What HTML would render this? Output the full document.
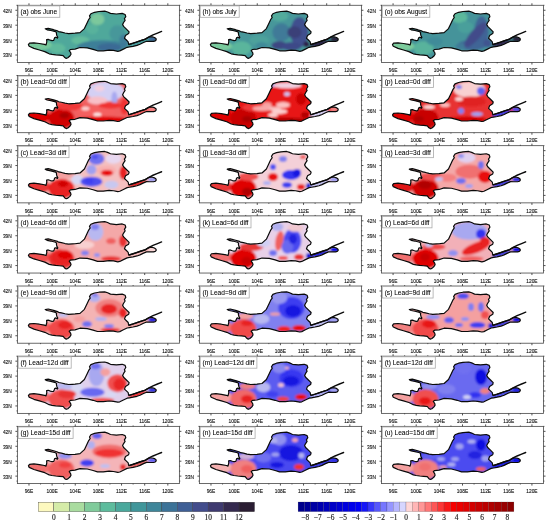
<!DOCTYPE html><html><head><meta charset="utf-8"><style>html,body{margin:0;padding:0;background:#fff;}svg{display:block;}text{font-family:"Liberation Sans",sans-serif;} svg{will-change:transform;}</style></head><body>
<svg width="550" height="523" viewBox="0 0 550 523">
<defs>
<clipPath id="cb"><path d="M11.0,39.4 L12.1,37.9 L16.5,37.5 L22.0,38.2 L27.0,39.1 L28.6,39.7 L29.4,36.5 L29.2,34.4 L30.8,34.1 L33.0,34.9 L34.6,35.3 L36.2,35.1 L36.8,33.8 L37.3,32.3 L38.4,31.9 L40.0,32.8 L40.4,32.0 L39.5,30.5 L39.0,28.3 L39.2,27.3 L38.1,26.4 L33.5,25.2 L29.7,24.5 L27.8,23.5 L30.8,23.0 L36.2,24.4 L40.1,25.6 L41.2,26.3 L44.0,26.8 L47.6,27.7 L51.2,28.3 L54.9,28.1 L57.6,27.9 L62.6,27.3 L67.0,23.3 L69.9,17.2 L71.3,14.2 L72.8,12.1 L72.1,10.6 L73.5,8.4 L77.1,7.0 L81.5,6.2 L87.3,5.8 L90.2,6.7 L93.1,8.1 L99.0,8.7 L104.8,8.1 L107.7,9.2 L108.4,11.3 L107.0,13.5 L107.7,15.0 L106.2,17.2 L105.2,19.2 L106.2,21.1 L109.0,23.8 L111.7,26.5 L111.2,28.3 L108.1,30.2 L107.1,32.9 L109.0,34.7 L110.8,36.5 L111.2,38.8 L112.4,39.0 L115.6,38.0 L118.8,36.9 L123.1,35.3 L127.9,33.9 L130.1,32.5 L132.4,31.5 L135.1,31.6 L137.0,32.2 L138.6,33.3 L138.8,34.5 L137.9,35.6 L136.1,36.1 L132.4,36.1 L129.1,36.0 L125.6,37.5 L122.6,39.0 L119.6,40.1 L115.6,41.0 L112.1,41.6 L109.7,42.0 L106.0,43.8 L102.4,45.6 L100.4,46.0 L96.1,45.1 L91.7,44.8 L85.9,45.5 L80.1,45.5 L75.7,44.1 L69.9,42.6 L62.6,42.2 L57.6,43.8 L53.1,44.2 L51.8,45.3 L53.2,47.2 L53.6,48.9 L52.5,50.7 L50.4,52.5 L48.8,53.1 L47.4,52.3 L45.8,50.3 L42.1,49.9 L38.3,49.6 L34.6,49.1 L31.8,48.5 L29.4,47.3 L27.4,46.3 L22.0,44.7 L16.5,43.1 L11.8,41.0Z"/></clipPath>
<filter id="bl" x="-20%" y="-20%" width="140%" height="140%"><feGaussianBlur stdDeviation="1.3"/></filter>
<path id="bp" d="M11.0,39.4 L12.1,37.9 L16.5,37.5 L22.0,38.2 L27.0,39.1 L28.6,39.7 L29.4,36.5 L29.2,34.4 L30.8,34.1 L33.0,34.9 L34.6,35.3 L36.2,35.1 L36.8,33.8 L37.3,32.3 L38.4,31.9 L40.0,32.8 L40.4,32.0 L39.5,30.5 L39.0,28.3 L39.2,27.3 L38.1,26.4 L33.5,25.2 L29.7,24.5 L27.8,23.5 L30.8,23.0 L36.2,24.4 L40.1,25.6 L41.2,26.3 L44.0,26.8 L47.6,27.7 L51.2,28.3 L54.9,28.1 L57.6,27.9 L62.6,27.3 L67.0,23.3 L69.9,17.2 L71.3,14.2 L72.8,12.1 L72.1,10.6 L73.5,8.4 L77.1,7.0 L81.5,6.2 L87.3,5.8 L90.2,6.7 L93.1,8.1 L99.0,8.7 L104.8,8.1 L107.7,9.2 L108.4,11.3 L107.0,13.5 L107.7,15.0 L106.2,17.2 L105.2,19.2 L106.2,21.1 L109.0,23.8 L111.7,26.5 L111.2,28.3 L108.1,30.2 L107.1,32.9 L109.0,34.7 L110.8,36.5 L111.2,38.8 L112.4,39.0 L115.6,38.0 L118.8,36.9 L123.1,35.3 L127.9,33.9 L130.1,32.5 L132.4,31.5 L135.1,31.6 L137.0,32.2 L138.6,33.3 L138.8,34.5 L137.9,35.6 L136.1,36.1 L132.4,36.1 L129.1,36.0 L125.6,37.5 L122.6,39.0 L119.6,40.1 L115.6,41.0 L112.1,41.6 L109.7,42.0 L106.0,43.8 L102.4,45.6 L100.4,46.0 L96.1,45.1 L91.7,44.8 L85.9,45.5 L80.1,45.5 L75.7,44.1 L69.9,42.6 L62.6,42.2 L57.6,43.8 L53.1,44.2 L51.8,45.3 L53.2,47.2 L53.6,48.9 L52.5,50.7 L50.4,52.5 L48.8,53.1 L47.4,52.3 L45.8,50.3 L42.1,49.9 L38.3,49.6 L34.6,49.1 L31.8,48.5 L29.4,47.3 L27.4,46.3 L22.0,44.7 L16.5,43.1 L11.8,41.0Z"/>
<path id="rv" d="M111.6,39.2 L118.8,36.9 L127.9,33.9 L131.6,31.6 L135.6,29.6 L140.1,27.8 L144.2,26.1"/>
</defs>
<rect width="550" height="523" fill="#fff"/>
<g transform="translate(17.40,5.30)"><g clip-path="url(#cb)"><g filter="url(#bl)"><rect x="5" y="0" width="150" height="57" fill="#4fa89b"/><ellipse cx="22" cy="40" rx="13" ry="5" fill="#78c99c" fill-opacity="1"/><ellipse cx="40" cy="43" rx="8" ry="5" fill="#62bd9c" fill-opacity="0.8"/><ellipse cx="63" cy="35" rx="9" ry="4" fill="#6cc49c" fill-opacity="0.7"/><ellipse cx="80" cy="14" rx="7" ry="6" fill="#80cb9c" fill-opacity="0.9"/><ellipse cx="75" cy="24" rx="6" ry="5" fill="#60b99c" fill-opacity="0.6"/><ellipse cx="100" cy="28" rx="8" ry="8" fill="#44929a" fill-opacity="0.8"/><ellipse cx="85" cy="41" rx="25" ry="6" fill="#3e7f98" fill-opacity="1"/><ellipse cx="92" cy="42" rx="12" ry="4" fill="#3b6a95" fill-opacity="1"/><ellipse cx="107" cy="35" rx="5" ry="6" fill="#3e7898" fill-opacity="0.9"/><ellipse cx="120" cy="38.2" rx="10" ry="2.6" fill="#4a9a9b" fill-opacity="1" transform="rotate(-17 120 38.2)"/><ellipse cx="135.5" cy="33.8" rx="5" ry="2.8" fill="#3c6898" fill-opacity="1"/></g></g><use href="#bp" fill="none" stroke="#0a0a0a" stroke-width="1.2" stroke-linejoin="round"/><use href="#rv" fill="none" stroke="#0a0a0a" stroke-width="1.4" stroke-linecap="round"/><rect x="0" y="0" width="162.0" height="57.2" fill="none" stroke="#505050" stroke-width="0.85"/><path d="M11.57,57.20v2.0M11.57,0v-2.0M23.14,57.20v0.9M23.14,0v-0.9M34.71,57.20v2.0M34.71,0v-2.0M46.29,57.20v0.9M46.29,0v-0.9M57.86,57.20v2.0M57.86,0v-2.0M69.43,57.20v0.9M69.43,0v-0.9M81.00,57.20v2.0M81.00,0v-2.0M92.57,57.20v0.9M92.57,0v-0.9M104.14,57.20v2.0M104.14,0v-2.0M115.71,57.20v0.9M115.71,0v-0.9M127.29,57.20v2.0M127.29,0v-2.0M138.86,57.20v0.9M138.86,0v-0.9M150.43,57.20v2.0M150.43,0v-2.0M0,54.71h-0.9M162.00,54.71h0.9M0,49.74h-2.0M162.00,49.74h2.0M0,44.77h-0.9M162.00,44.77h0.9M0,39.79h-0.9M162.00,39.79h0.9M0,34.82h-2.0M162.00,34.82h2.0M0,29.84h-0.9M162.00,29.84h0.9M0,24.87h-0.9M162.00,24.87h0.9M0,19.90h-2.0M162.00,19.90h2.0M0,14.92h-0.9M162.00,14.92h0.9M0,9.95h-0.9M162.00,9.95h0.9M0,4.97h-2.0M162.00,4.97h2.0M0,0.00h-0.9M162.00,0.00h0.9" stroke="#333" stroke-width="0.85" fill="none"/><text x="11.57" y="66.95" font-size="5.6" text-anchor="middle" textLength="8.63" lengthAdjust="spacingAndGlyphs" fill="#111" stroke="#111" stroke-width="0.12">96E</text><text x="34.71" y="66.95" font-size="5.6" text-anchor="middle" textLength="11.33" lengthAdjust="spacingAndGlyphs" fill="#111" stroke="#111" stroke-width="0.12">100E</text><text x="57.86" y="66.95" font-size="5.6" text-anchor="middle" textLength="11.33" lengthAdjust="spacingAndGlyphs" fill="#111" stroke="#111" stroke-width="0.12">104E</text><text x="81.00" y="66.95" font-size="5.6" text-anchor="middle" textLength="11.33" lengthAdjust="spacingAndGlyphs" fill="#111" stroke="#111" stroke-width="0.12">108E</text><text x="104.14" y="66.95" font-size="5.6" text-anchor="middle" textLength="10.97" lengthAdjust="spacingAndGlyphs" fill="#111" stroke="#111" stroke-width="0.12">112E</text><text x="127.29" y="66.95" font-size="5.6" text-anchor="middle" textLength="10.97" lengthAdjust="spacingAndGlyphs" fill="#111" stroke="#111" stroke-width="0.12">116E</text><text x="150.43" y="66.95" font-size="5.6" text-anchor="middle" textLength="11.33" lengthAdjust="spacingAndGlyphs" fill="#111" stroke="#111" stroke-width="0.12">120E</text><text x="-5.6" y="7.37" font-size="5.6" text-anchor="end" textLength="8.90" lengthAdjust="spacingAndGlyphs" fill="#111" stroke="#111" stroke-width="0.12">42N</text><text x="-5.6" y="22.30" font-size="5.6" text-anchor="end" textLength="8.90" lengthAdjust="spacingAndGlyphs" fill="#111" stroke="#111" stroke-width="0.12">39N</text><text x="-5.6" y="37.22" font-size="5.6" text-anchor="end" textLength="8.90" lengthAdjust="spacingAndGlyphs" fill="#111" stroke="#111" stroke-width="0.12">36N</text><text x="-5.6" y="52.14" font-size="5.6" text-anchor="end" textLength="8.90" lengthAdjust="spacingAndGlyphs" fill="#111" stroke="#111" stroke-width="0.12">33N</text><text x="167.70" y="7.37" font-size="5.6" text-anchor="start" textLength="8.90" lengthAdjust="spacingAndGlyphs" fill="#111" stroke="#111" stroke-width="0.12">42N</text><text x="167.70" y="22.30" font-size="5.6" text-anchor="start" textLength="8.90" lengthAdjust="spacingAndGlyphs" fill="#111" stroke="#111" stroke-width="0.12">39N</text><text x="167.70" y="37.22" font-size="5.6" text-anchor="start" textLength="8.90" lengthAdjust="spacingAndGlyphs" fill="#111" stroke="#111" stroke-width="0.12">36N</text><text x="167.70" y="52.14" font-size="5.6" text-anchor="start" textLength="8.90" lengthAdjust="spacingAndGlyphs" fill="#111" stroke="#111" stroke-width="0.12">33N</text><rect x="0.8" y="0.6" width="41.6" height="11.4" fill="#fff" stroke="#aaa" stroke-width="0.8"/><text x="3.15" y="9.0" font-size="6.6" fill="#000" stroke="#000" stroke-width="0.06">(a) obs June</text></g>
<g transform="translate(17.40,75.48)"><g clip-path="url(#cb)"><g filter="url(#bl)"><rect x="5" y="0" width="150" height="57" fill="#f06060"/><ellipse cx="19" cy="41" rx="14" ry="7" fill="#e00000" fill-opacity="1"/><ellipse cx="44" cy="43" rx="13" ry="10" fill="#d00000" fill-opacity="1"/><ellipse cx="47" cy="40" rx="5" ry="3" fill="#a80000" fill-opacity="1"/><ellipse cx="52" cy="31" rx="14" ry="4" fill="#f03838" fill-opacity="1"/><ellipse cx="78" cy="36" rx="20" ry="5" fill="#f46060" fill-opacity="1"/><ellipse cx="80" cy="39" rx="4" ry="2" fill="#fce0e0" fill-opacity="1"/><ellipse cx="68" cy="33" rx="4" ry="2" fill="#fad0d0" fill-opacity="1"/><ellipse cx="85" cy="44" rx="26" ry="3" fill="#e00000" fill-opacity="1"/><ellipse cx="88" cy="16" rx="19" ry="10" fill="#d4d0f4" fill-opacity="1"/><ellipse cx="82" cy="13" rx="5" ry="3" fill="#f4d0e0" fill-opacity="1"/><ellipse cx="97" cy="23" rx="3" ry="7" fill="#a8a8f0" fill-opacity="1"/><ellipse cx="80" cy="25" rx="10" ry="4" fill="#f8c0c8" fill-opacity="1"/><ellipse cx="93" cy="30" rx="12" ry="3" fill="#f03030" fill-opacity="1"/><ellipse cx="107" cy="31" rx="4" ry="8" fill="#f03030" fill-opacity="1"/><ellipse cx="120" cy="38.2" rx="10" ry="2.6" fill="#f06060" fill-opacity="1" transform="rotate(-17 120 38.2)"/><ellipse cx="135.5" cy="33.8" rx="5" ry="2.8" fill="#f48080" fill-opacity="1"/></g></g><use href="#bp" fill="none" stroke="#0a0a0a" stroke-width="1.2" stroke-linejoin="round"/><use href="#rv" fill="none" stroke="#0a0a0a" stroke-width="1.4" stroke-linecap="round"/><rect x="0" y="0" width="162.0" height="57.2" fill="none" stroke="#505050" stroke-width="0.85"/><path d="M11.57,57.20v2.0M11.57,0v-2.0M23.14,57.20v0.9M23.14,0v-0.9M34.71,57.20v2.0M34.71,0v-2.0M46.29,57.20v0.9M46.29,0v-0.9M57.86,57.20v2.0M57.86,0v-2.0M69.43,57.20v0.9M69.43,0v-0.9M81.00,57.20v2.0M81.00,0v-2.0M92.57,57.20v0.9M92.57,0v-0.9M104.14,57.20v2.0M104.14,0v-2.0M115.71,57.20v0.9M115.71,0v-0.9M127.29,57.20v2.0M127.29,0v-2.0M138.86,57.20v0.9M138.86,0v-0.9M150.43,57.20v2.0M150.43,0v-2.0M0,54.71h-0.9M162.00,54.71h0.9M0,49.74h-2.0M162.00,49.74h2.0M0,44.77h-0.9M162.00,44.77h0.9M0,39.79h-0.9M162.00,39.79h0.9M0,34.82h-2.0M162.00,34.82h2.0M0,29.84h-0.9M162.00,29.84h0.9M0,24.87h-0.9M162.00,24.87h0.9M0,19.90h-2.0M162.00,19.90h2.0M0,14.92h-0.9M162.00,14.92h0.9M0,9.95h-0.9M162.00,9.95h0.9M0,4.97h-2.0M162.00,4.97h2.0M0,0.00h-0.9M162.00,0.00h0.9" stroke="#333" stroke-width="0.85" fill="none"/><text x="11.57" y="66.95" font-size="5.6" text-anchor="middle" textLength="8.63" lengthAdjust="spacingAndGlyphs" fill="#111" stroke="#111" stroke-width="0.12">96E</text><text x="34.71" y="66.95" font-size="5.6" text-anchor="middle" textLength="11.33" lengthAdjust="spacingAndGlyphs" fill="#111" stroke="#111" stroke-width="0.12">100E</text><text x="57.86" y="66.95" font-size="5.6" text-anchor="middle" textLength="11.33" lengthAdjust="spacingAndGlyphs" fill="#111" stroke="#111" stroke-width="0.12">104E</text><text x="81.00" y="66.95" font-size="5.6" text-anchor="middle" textLength="11.33" lengthAdjust="spacingAndGlyphs" fill="#111" stroke="#111" stroke-width="0.12">108E</text><text x="104.14" y="66.95" font-size="5.6" text-anchor="middle" textLength="10.97" lengthAdjust="spacingAndGlyphs" fill="#111" stroke="#111" stroke-width="0.12">112E</text><text x="127.29" y="66.95" font-size="5.6" text-anchor="middle" textLength="10.97" lengthAdjust="spacingAndGlyphs" fill="#111" stroke="#111" stroke-width="0.12">116E</text><text x="150.43" y="66.95" font-size="5.6" text-anchor="middle" textLength="11.33" lengthAdjust="spacingAndGlyphs" fill="#111" stroke="#111" stroke-width="0.12">120E</text><text x="-5.6" y="7.37" font-size="5.6" text-anchor="end" textLength="8.90" lengthAdjust="spacingAndGlyphs" fill="#111" stroke="#111" stroke-width="0.12">42N</text><text x="-5.6" y="22.30" font-size="5.6" text-anchor="end" textLength="8.90" lengthAdjust="spacingAndGlyphs" fill="#111" stroke="#111" stroke-width="0.12">39N</text><text x="-5.6" y="37.22" font-size="5.6" text-anchor="end" textLength="8.90" lengthAdjust="spacingAndGlyphs" fill="#111" stroke="#111" stroke-width="0.12">36N</text><text x="-5.6" y="52.14" font-size="5.6" text-anchor="end" textLength="8.90" lengthAdjust="spacingAndGlyphs" fill="#111" stroke="#111" stroke-width="0.12">33N</text><text x="167.70" y="7.37" font-size="5.6" text-anchor="start" textLength="8.90" lengthAdjust="spacingAndGlyphs" fill="#111" stroke="#111" stroke-width="0.12">42N</text><text x="167.70" y="22.30" font-size="5.6" text-anchor="start" textLength="8.90" lengthAdjust="spacingAndGlyphs" fill="#111" stroke="#111" stroke-width="0.12">39N</text><text x="167.70" y="37.22" font-size="5.6" text-anchor="start" textLength="8.90" lengthAdjust="spacingAndGlyphs" fill="#111" stroke="#111" stroke-width="0.12">36N</text><text x="167.70" y="52.14" font-size="5.6" text-anchor="start" textLength="8.90" lengthAdjust="spacingAndGlyphs" fill="#111" stroke="#111" stroke-width="0.12">33N</text><rect x="0.8" y="0.6" width="51.2" height="11.4" fill="#fff" stroke="#aaa" stroke-width="0.8"/><text x="3.15" y="9.0" font-size="6.6" fill="#000" stroke="#000" stroke-width="0.06">(b) Lead=0d diff</text></g>
<g transform="translate(17.40,145.66)"><g clip-path="url(#cb)"><g filter="url(#bl)"><rect x="5" y="0" width="150" height="57" fill="#f4c0c0"/><ellipse cx="19" cy="41" rx="14" ry="7" fill="#e83838" fill-opacity="1"/><ellipse cx="44" cy="43" rx="13" ry="10" fill="#e82020" fill-opacity="1"/><ellipse cx="45.6" cy="38.3" rx="5" ry="3" fill="#d00000" fill-opacity="1"/><ellipse cx="47" cy="29" rx="10" ry="4" fill="#f4a0a0" fill-opacity="1"/><ellipse cx="60" cy="34" rx="6" ry="5" fill="#d8d8f4" fill-opacity="1"/><ellipse cx="74" cy="36" rx="11" ry="5" fill="#5050f0" fill-opacity="1"/><ellipse cx="71.6" cy="35.3" rx="5" ry="3" fill="#4040f0" fill-opacity="1"/><ellipse cx="94" cy="39" rx="7" ry="4" fill="#c8c8f0" fill-opacity="1"/><ellipse cx="79" cy="13" rx="8" ry="6" fill="#7070f0" fill-opacity="1"/><ellipse cx="77.6" cy="11.3" rx="3" ry="2" fill="#5050f0" fill-opacity="1"/><ellipse cx="96" cy="13" rx="8" ry="5" fill="#e8d8f0" fill-opacity="1"/><ellipse cx="74" cy="24" rx="5" ry="5" fill="#a0a0f0" fill-opacity="1"/><ellipse cx="89" cy="25" rx="10" ry="5" fill="#f8b0b0" fill-opacity="1"/><ellipse cx="89.6" cy="27.3" rx="6" ry="3" fill="#e81010" fill-opacity="1"/><ellipse cx="106" cy="27" rx="4" ry="7" fill="#e82020" fill-opacity="1"/><ellipse cx="120" cy="38.2" rx="10" ry="2.6" fill="#e02020" fill-opacity="1" transform="rotate(-17 120 38.2)"/><ellipse cx="135.5" cy="33.8" rx="5" ry="2.8" fill="#a0a0f0" fill-opacity="1"/></g></g><use href="#bp" fill="none" stroke="#0a0a0a" stroke-width="1.2" stroke-linejoin="round"/><use href="#rv" fill="none" stroke="#0a0a0a" stroke-width="1.4" stroke-linecap="round"/><rect x="0" y="0" width="162.0" height="57.2" fill="none" stroke="#505050" stroke-width="0.85"/><path d="M11.57,57.20v2.0M11.57,0v-2.0M23.14,57.20v0.9M23.14,0v-0.9M34.71,57.20v2.0M34.71,0v-2.0M46.29,57.20v0.9M46.29,0v-0.9M57.86,57.20v2.0M57.86,0v-2.0M69.43,57.20v0.9M69.43,0v-0.9M81.00,57.20v2.0M81.00,0v-2.0M92.57,57.20v0.9M92.57,0v-0.9M104.14,57.20v2.0M104.14,0v-2.0M115.71,57.20v0.9M115.71,0v-0.9M127.29,57.20v2.0M127.29,0v-2.0M138.86,57.20v0.9M138.86,0v-0.9M150.43,57.20v2.0M150.43,0v-2.0M0,54.71h-0.9M162.00,54.71h0.9M0,49.74h-2.0M162.00,49.74h2.0M0,44.77h-0.9M162.00,44.77h0.9M0,39.79h-0.9M162.00,39.79h0.9M0,34.82h-2.0M162.00,34.82h2.0M0,29.84h-0.9M162.00,29.84h0.9M0,24.87h-0.9M162.00,24.87h0.9M0,19.90h-2.0M162.00,19.90h2.0M0,14.92h-0.9M162.00,14.92h0.9M0,9.95h-0.9M162.00,9.95h0.9M0,4.97h-2.0M162.00,4.97h2.0M0,0.00h-0.9M162.00,0.00h0.9" stroke="#333" stroke-width="0.85" fill="none"/><text x="11.57" y="66.95" font-size="5.6" text-anchor="middle" textLength="8.63" lengthAdjust="spacingAndGlyphs" fill="#111" stroke="#111" stroke-width="0.12">96E</text><text x="34.71" y="66.95" font-size="5.6" text-anchor="middle" textLength="11.33" lengthAdjust="spacingAndGlyphs" fill="#111" stroke="#111" stroke-width="0.12">100E</text><text x="57.86" y="66.95" font-size="5.6" text-anchor="middle" textLength="11.33" lengthAdjust="spacingAndGlyphs" fill="#111" stroke="#111" stroke-width="0.12">104E</text><text x="81.00" y="66.95" font-size="5.6" text-anchor="middle" textLength="11.33" lengthAdjust="spacingAndGlyphs" fill="#111" stroke="#111" stroke-width="0.12">108E</text><text x="104.14" y="66.95" font-size="5.6" text-anchor="middle" textLength="10.97" lengthAdjust="spacingAndGlyphs" fill="#111" stroke="#111" stroke-width="0.12">112E</text><text x="127.29" y="66.95" font-size="5.6" text-anchor="middle" textLength="10.97" lengthAdjust="spacingAndGlyphs" fill="#111" stroke="#111" stroke-width="0.12">116E</text><text x="150.43" y="66.95" font-size="5.6" text-anchor="middle" textLength="11.33" lengthAdjust="spacingAndGlyphs" fill="#111" stroke="#111" stroke-width="0.12">120E</text><text x="-5.6" y="7.37" font-size="5.6" text-anchor="end" textLength="8.90" lengthAdjust="spacingAndGlyphs" fill="#111" stroke="#111" stroke-width="0.12">42N</text><text x="-5.6" y="22.30" font-size="5.6" text-anchor="end" textLength="8.90" lengthAdjust="spacingAndGlyphs" fill="#111" stroke="#111" stroke-width="0.12">39N</text><text x="-5.6" y="37.22" font-size="5.6" text-anchor="end" textLength="8.90" lengthAdjust="spacingAndGlyphs" fill="#111" stroke="#111" stroke-width="0.12">36N</text><text x="-5.6" y="52.14" font-size="5.6" text-anchor="end" textLength="8.90" lengthAdjust="spacingAndGlyphs" fill="#111" stroke="#111" stroke-width="0.12">33N</text><text x="167.70" y="7.37" font-size="5.6" text-anchor="start" textLength="8.90" lengthAdjust="spacingAndGlyphs" fill="#111" stroke="#111" stroke-width="0.12">42N</text><text x="167.70" y="22.30" font-size="5.6" text-anchor="start" textLength="8.90" lengthAdjust="spacingAndGlyphs" fill="#111" stroke="#111" stroke-width="0.12">39N</text><text x="167.70" y="37.22" font-size="5.6" text-anchor="start" textLength="8.90" lengthAdjust="spacingAndGlyphs" fill="#111" stroke="#111" stroke-width="0.12">36N</text><text x="167.70" y="52.14" font-size="5.6" text-anchor="start" textLength="8.90" lengthAdjust="spacingAndGlyphs" fill="#111" stroke="#111" stroke-width="0.12">33N</text><rect x="0.8" y="0.6" width="50.8" height="11.4" fill="#fff" stroke="#aaa" stroke-width="0.8"/><text x="3.15" y="9.0" font-size="6.6" fill="#000" stroke="#000" stroke-width="0.06">(c) Lead=3d diff</text></g>
<g transform="translate(17.40,215.84)"><g clip-path="url(#cb)"><g filter="url(#bl)"><rect x="5" y="0" width="150" height="57" fill="#f4a8a8"/><ellipse cx="19" cy="41" rx="14" ry="7" fill="#f05050" fill-opacity="1"/><ellipse cx="44" cy="43" rx="13" ry="10" fill="#e83030" fill-opacity="1"/><ellipse cx="45" cy="42" rx="11" ry="7" fill="#e82020" fill-opacity="1"/><ellipse cx="47.6" cy="39.2" rx="7" ry="4" fill="#e00000" fill-opacity="1"/><ellipse cx="48" cy="30" rx="9" ry="4" fill="#f4a0a0" fill-opacity="1"/><ellipse cx="67" cy="29" rx="10" ry="4" fill="#f8d0d0" fill-opacity="1"/><ellipse cx="67.6" cy="37.2" rx="4" ry="2.5" fill="#8080f0" fill-opacity="1"/><ellipse cx="79.6" cy="39.2" rx="3" ry="2" fill="#9090f0" fill-opacity="1"/><ellipse cx="78" cy="16" rx="8" ry="9" fill="#b8b8f0" fill-opacity="1"/><ellipse cx="77.6" cy="11.2" rx="4" ry="3" fill="#8080f0" fill-opacity="1"/><ellipse cx="93.6" cy="25.2" rx="5" ry="3" fill="#f06060" fill-opacity="1"/><ellipse cx="105.6" cy="25.2" rx="4" ry="6" fill="#e83030" fill-opacity="1"/><ellipse cx="93.6" cy="43" rx="10" ry="2.5" fill="#e83030" fill-opacity="1"/><ellipse cx="120" cy="38.2" rx="10" ry="2.6" fill="#f8c0c0" fill-opacity="1" transform="rotate(-17 120 38.2)"/><ellipse cx="135.5" cy="33.8" rx="5" ry="2.8" fill="#f8d8d8" fill-opacity="1"/></g></g><use href="#bp" fill="none" stroke="#0a0a0a" stroke-width="1.2" stroke-linejoin="round"/><use href="#rv" fill="none" stroke="#0a0a0a" stroke-width="1.4" stroke-linecap="round"/><rect x="0" y="0" width="162.0" height="57.2" fill="none" stroke="#505050" stroke-width="0.85"/><path d="M11.57,57.20v2.0M11.57,0v-2.0M23.14,57.20v0.9M23.14,0v-0.9M34.71,57.20v2.0M34.71,0v-2.0M46.29,57.20v0.9M46.29,0v-0.9M57.86,57.20v2.0M57.86,0v-2.0M69.43,57.20v0.9M69.43,0v-0.9M81.00,57.20v2.0M81.00,0v-2.0M92.57,57.20v0.9M92.57,0v-0.9M104.14,57.20v2.0M104.14,0v-2.0M115.71,57.20v0.9M115.71,0v-0.9M127.29,57.20v2.0M127.29,0v-2.0M138.86,57.20v0.9M138.86,0v-0.9M150.43,57.20v2.0M150.43,0v-2.0M0,54.71h-0.9M162.00,54.71h0.9M0,49.74h-2.0M162.00,49.74h2.0M0,44.77h-0.9M162.00,44.77h0.9M0,39.79h-0.9M162.00,39.79h0.9M0,34.82h-2.0M162.00,34.82h2.0M0,29.84h-0.9M162.00,29.84h0.9M0,24.87h-0.9M162.00,24.87h0.9M0,19.90h-2.0M162.00,19.90h2.0M0,14.92h-0.9M162.00,14.92h0.9M0,9.95h-0.9M162.00,9.95h0.9M0,4.97h-2.0M162.00,4.97h2.0M0,0.00h-0.9M162.00,0.00h0.9" stroke="#333" stroke-width="0.85" fill="none"/><text x="11.57" y="66.95" font-size="5.6" text-anchor="middle" textLength="8.63" lengthAdjust="spacingAndGlyphs" fill="#111" stroke="#111" stroke-width="0.12">96E</text><text x="34.71" y="66.95" font-size="5.6" text-anchor="middle" textLength="11.33" lengthAdjust="spacingAndGlyphs" fill="#111" stroke="#111" stroke-width="0.12">100E</text><text x="57.86" y="66.95" font-size="5.6" text-anchor="middle" textLength="11.33" lengthAdjust="spacingAndGlyphs" fill="#111" stroke="#111" stroke-width="0.12">104E</text><text x="81.00" y="66.95" font-size="5.6" text-anchor="middle" textLength="11.33" lengthAdjust="spacingAndGlyphs" fill="#111" stroke="#111" stroke-width="0.12">108E</text><text x="104.14" y="66.95" font-size="5.6" text-anchor="middle" textLength="10.97" lengthAdjust="spacingAndGlyphs" fill="#111" stroke="#111" stroke-width="0.12">112E</text><text x="127.29" y="66.95" font-size="5.6" text-anchor="middle" textLength="10.97" lengthAdjust="spacingAndGlyphs" fill="#111" stroke="#111" stroke-width="0.12">116E</text><text x="150.43" y="66.95" font-size="5.6" text-anchor="middle" textLength="11.33" lengthAdjust="spacingAndGlyphs" fill="#111" stroke="#111" stroke-width="0.12">120E</text><text x="-5.6" y="7.37" font-size="5.6" text-anchor="end" textLength="8.90" lengthAdjust="spacingAndGlyphs" fill="#111" stroke="#111" stroke-width="0.12">42N</text><text x="-5.6" y="22.30" font-size="5.6" text-anchor="end" textLength="8.90" lengthAdjust="spacingAndGlyphs" fill="#111" stroke="#111" stroke-width="0.12">39N</text><text x="-5.6" y="37.22" font-size="5.6" text-anchor="end" textLength="8.90" lengthAdjust="spacingAndGlyphs" fill="#111" stroke="#111" stroke-width="0.12">36N</text><text x="-5.6" y="52.14" font-size="5.6" text-anchor="end" textLength="8.90" lengthAdjust="spacingAndGlyphs" fill="#111" stroke="#111" stroke-width="0.12">33N</text><text x="167.70" y="7.37" font-size="5.6" text-anchor="start" textLength="8.90" lengthAdjust="spacingAndGlyphs" fill="#111" stroke="#111" stroke-width="0.12">42N</text><text x="167.70" y="22.30" font-size="5.6" text-anchor="start" textLength="8.90" lengthAdjust="spacingAndGlyphs" fill="#111" stroke="#111" stroke-width="0.12">39N</text><text x="167.70" y="37.22" font-size="5.6" text-anchor="start" textLength="8.90" lengthAdjust="spacingAndGlyphs" fill="#111" stroke="#111" stroke-width="0.12">36N</text><text x="167.70" y="52.14" font-size="5.6" text-anchor="start" textLength="8.90" lengthAdjust="spacingAndGlyphs" fill="#111" stroke="#111" stroke-width="0.12">33N</text><rect x="0.8" y="0.6" width="51.2" height="11.4" fill="#fff" stroke="#aaa" stroke-width="0.8"/><text x="3.15" y="9.0" font-size="6.6" fill="#000" stroke="#000" stroke-width="0.06">(d) Lead=6d diff</text></g>
<g transform="translate(17.40,286.02)"><g clip-path="url(#cb)"><g filter="url(#bl)"><rect x="5" y="0" width="150" height="57" fill="#f4b4b4"/><ellipse cx="19" cy="41" rx="14" ry="7" fill="#f06060" fill-opacity="1"/><ellipse cx="44" cy="43" rx="13" ry="10" fill="#f04848" fill-opacity="1"/><ellipse cx="47.6" cy="39" rx="7" ry="4" fill="#e82020" fill-opacity="1"/><ellipse cx="45.6" cy="29" rx="5" ry="2" fill="#c0c0f0" fill-opacity="1"/><ellipse cx="62" cy="33" rx="6" ry="3" fill="#f4a0a0" fill-opacity="1"/><ellipse cx="69.6" cy="38" rx="5" ry="3" fill="#7070f0" fill-opacity="1"/><ellipse cx="83.6" cy="33" rx="6" ry="2" fill="#b0b0f0" fill-opacity="1"/><ellipse cx="91.6" cy="40" rx="5" ry="2" fill="#8080f0" fill-opacity="1"/><ellipse cx="77" cy="12" rx="6" ry="4" fill="#b0b0f0" fill-opacity="1"/><ellipse cx="77.6" cy="9" rx="3" ry="2" fill="#8080f0" fill-opacity="1"/><ellipse cx="92" cy="22" rx="14" ry="9" fill="#f08080" fill-opacity="1"/><ellipse cx="91.6" cy="23" rx="8" ry="5" fill="#e82020" fill-opacity="1"/><ellipse cx="105.6" cy="27" rx="4" ry="5" fill="#e82020" fill-opacity="1"/><ellipse cx="93" cy="44" rx="10" ry="2" fill="#e82020" fill-opacity="1"/><ellipse cx="120" cy="38.2" rx="10" ry="2.6" fill="#f0a0a0" fill-opacity="1" transform="rotate(-17 120 38.2)"/><ellipse cx="135.5" cy="33.8" rx="5" ry="2.8" fill="#2020e0" fill-opacity="1"/></g></g><use href="#bp" fill="none" stroke="#0a0a0a" stroke-width="1.2" stroke-linejoin="round"/><use href="#rv" fill="none" stroke="#0a0a0a" stroke-width="1.4" stroke-linecap="round"/><rect x="0" y="0" width="162.0" height="57.2" fill="none" stroke="#505050" stroke-width="0.85"/><path d="M11.57,57.20v2.0M11.57,0v-2.0M23.14,57.20v0.9M23.14,0v-0.9M34.71,57.20v2.0M34.71,0v-2.0M46.29,57.20v0.9M46.29,0v-0.9M57.86,57.20v2.0M57.86,0v-2.0M69.43,57.20v0.9M69.43,0v-0.9M81.00,57.20v2.0M81.00,0v-2.0M92.57,57.20v0.9M92.57,0v-0.9M104.14,57.20v2.0M104.14,0v-2.0M115.71,57.20v0.9M115.71,0v-0.9M127.29,57.20v2.0M127.29,0v-2.0M138.86,57.20v0.9M138.86,0v-0.9M150.43,57.20v2.0M150.43,0v-2.0M0,54.71h-0.9M162.00,54.71h0.9M0,49.74h-2.0M162.00,49.74h2.0M0,44.77h-0.9M162.00,44.77h0.9M0,39.79h-0.9M162.00,39.79h0.9M0,34.82h-2.0M162.00,34.82h2.0M0,29.84h-0.9M162.00,29.84h0.9M0,24.87h-0.9M162.00,24.87h0.9M0,19.90h-2.0M162.00,19.90h2.0M0,14.92h-0.9M162.00,14.92h0.9M0,9.95h-0.9M162.00,9.95h0.9M0,4.97h-2.0M162.00,4.97h2.0M0,0.00h-0.9M162.00,0.00h0.9" stroke="#333" stroke-width="0.85" fill="none"/><text x="11.57" y="66.95" font-size="5.6" text-anchor="middle" textLength="8.63" lengthAdjust="spacingAndGlyphs" fill="#111" stroke="#111" stroke-width="0.12">96E</text><text x="34.71" y="66.95" font-size="5.6" text-anchor="middle" textLength="11.33" lengthAdjust="spacingAndGlyphs" fill="#111" stroke="#111" stroke-width="0.12">100E</text><text x="57.86" y="66.95" font-size="5.6" text-anchor="middle" textLength="11.33" lengthAdjust="spacingAndGlyphs" fill="#111" stroke="#111" stroke-width="0.12">104E</text><text x="81.00" y="66.95" font-size="5.6" text-anchor="middle" textLength="11.33" lengthAdjust="spacingAndGlyphs" fill="#111" stroke="#111" stroke-width="0.12">108E</text><text x="104.14" y="66.95" font-size="5.6" text-anchor="middle" textLength="10.97" lengthAdjust="spacingAndGlyphs" fill="#111" stroke="#111" stroke-width="0.12">112E</text><text x="127.29" y="66.95" font-size="5.6" text-anchor="middle" textLength="10.97" lengthAdjust="spacingAndGlyphs" fill="#111" stroke="#111" stroke-width="0.12">116E</text><text x="150.43" y="66.95" font-size="5.6" text-anchor="middle" textLength="11.33" lengthAdjust="spacingAndGlyphs" fill="#111" stroke="#111" stroke-width="0.12">120E</text><text x="-5.6" y="7.37" font-size="5.6" text-anchor="end" textLength="8.90" lengthAdjust="spacingAndGlyphs" fill="#111" stroke="#111" stroke-width="0.12">42N</text><text x="-5.6" y="22.30" font-size="5.6" text-anchor="end" textLength="8.90" lengthAdjust="spacingAndGlyphs" fill="#111" stroke="#111" stroke-width="0.12">39N</text><text x="-5.6" y="37.22" font-size="5.6" text-anchor="end" textLength="8.90" lengthAdjust="spacingAndGlyphs" fill="#111" stroke="#111" stroke-width="0.12">36N</text><text x="-5.6" y="52.14" font-size="5.6" text-anchor="end" textLength="8.90" lengthAdjust="spacingAndGlyphs" fill="#111" stroke="#111" stroke-width="0.12">33N</text><text x="167.70" y="7.37" font-size="5.6" text-anchor="start" textLength="8.90" lengthAdjust="spacingAndGlyphs" fill="#111" stroke="#111" stroke-width="0.12">42N</text><text x="167.70" y="22.30" font-size="5.6" text-anchor="start" textLength="8.90" lengthAdjust="spacingAndGlyphs" fill="#111" stroke="#111" stroke-width="0.12">39N</text><text x="167.70" y="37.22" font-size="5.6" text-anchor="start" textLength="8.90" lengthAdjust="spacingAndGlyphs" fill="#111" stroke="#111" stroke-width="0.12">36N</text><text x="167.70" y="52.14" font-size="5.6" text-anchor="start" textLength="8.90" lengthAdjust="spacingAndGlyphs" fill="#111" stroke="#111" stroke-width="0.12">33N</text><rect x="0.8" y="0.6" width="51.2" height="11.4" fill="#fff" stroke="#aaa" stroke-width="0.8"/><text x="3.15" y="9.0" font-size="6.6" fill="#000" stroke="#000" stroke-width="0.06">(e) Lead=9d diff</text></g>
<g transform="translate(17.40,356.20)"><g clip-path="url(#cb)"><g filter="url(#bl)"><rect x="5" y="0" width="150" height="57" fill="#e0d0ec"/><ellipse cx="19" cy="41" rx="14" ry="7" fill="#f06a6a" fill-opacity="1"/><ellipse cx="44" cy="43" rx="13" ry="10" fill="#f05050" fill-opacity="1"/><ellipse cx="49.6" cy="38" rx="9" ry="4" fill="#e83030" fill-opacity="1"/><ellipse cx="48" cy="30" rx="10" ry="3" fill="#b8b8f0" fill-opacity="1"/><ellipse cx="60" cy="31" rx="6" ry="5" fill="#d8d8f4" fill-opacity="1"/><ellipse cx="75" cy="36" rx="12" ry="4.5" fill="#6868f0" fill-opacity="1"/><ellipse cx="79" cy="18" rx="8" ry="12" fill="#a8a8f0" fill-opacity="1"/><ellipse cx="78" cy="10" rx="5" ry="3" fill="#7070f0" fill-opacity="1"/><ellipse cx="88" cy="16" rx="5" ry="4" fill="#f4a0a0" fill-opacity="1"/><ellipse cx="100" cy="27" rx="10" ry="9" fill="#f05050" fill-opacity="1"/><ellipse cx="102" cy="28" rx="6" ry="6" fill="#e82828" fill-opacity="1"/><ellipse cx="85" cy="44" rx="12" ry="2.5" fill="#f05050" fill-opacity="1"/><ellipse cx="94" cy="38" rx="5" ry="3" fill="#d8d8f4" fill-opacity="1"/><ellipse cx="120" cy="38.2" rx="10" ry="2.6" fill="#e83030" fill-opacity="1" transform="rotate(-17 120 38.2)"/><ellipse cx="135.5" cy="33.8" rx="5" ry="2.8" fill="#3030e0" fill-opacity="1"/></g></g><use href="#bp" fill="none" stroke="#0a0a0a" stroke-width="1.2" stroke-linejoin="round"/><use href="#rv" fill="none" stroke="#0a0a0a" stroke-width="1.4" stroke-linecap="round"/><rect x="0" y="0" width="162.0" height="57.2" fill="none" stroke="#505050" stroke-width="0.85"/><path d="M11.57,57.20v2.0M11.57,0v-2.0M23.14,57.20v0.9M23.14,0v-0.9M34.71,57.20v2.0M34.71,0v-2.0M46.29,57.20v0.9M46.29,0v-0.9M57.86,57.20v2.0M57.86,0v-2.0M69.43,57.20v0.9M69.43,0v-0.9M81.00,57.20v2.0M81.00,0v-2.0M92.57,57.20v0.9M92.57,0v-0.9M104.14,57.20v2.0M104.14,0v-2.0M115.71,57.20v0.9M115.71,0v-0.9M127.29,57.20v2.0M127.29,0v-2.0M138.86,57.20v0.9M138.86,0v-0.9M150.43,57.20v2.0M150.43,0v-2.0M0,54.71h-0.9M162.00,54.71h0.9M0,49.74h-2.0M162.00,49.74h2.0M0,44.77h-0.9M162.00,44.77h0.9M0,39.79h-0.9M162.00,39.79h0.9M0,34.82h-2.0M162.00,34.82h2.0M0,29.84h-0.9M162.00,29.84h0.9M0,24.87h-0.9M162.00,24.87h0.9M0,19.90h-2.0M162.00,19.90h2.0M0,14.92h-0.9M162.00,14.92h0.9M0,9.95h-0.9M162.00,9.95h0.9M0,4.97h-2.0M162.00,4.97h2.0M0,0.00h-0.9M162.00,0.00h0.9" stroke="#333" stroke-width="0.85" fill="none"/><text x="11.57" y="66.95" font-size="5.6" text-anchor="middle" textLength="8.63" lengthAdjust="spacingAndGlyphs" fill="#111" stroke="#111" stroke-width="0.12">96E</text><text x="34.71" y="66.95" font-size="5.6" text-anchor="middle" textLength="11.33" lengthAdjust="spacingAndGlyphs" fill="#111" stroke="#111" stroke-width="0.12">100E</text><text x="57.86" y="66.95" font-size="5.6" text-anchor="middle" textLength="11.33" lengthAdjust="spacingAndGlyphs" fill="#111" stroke="#111" stroke-width="0.12">104E</text><text x="81.00" y="66.95" font-size="5.6" text-anchor="middle" textLength="11.33" lengthAdjust="spacingAndGlyphs" fill="#111" stroke="#111" stroke-width="0.12">108E</text><text x="104.14" y="66.95" font-size="5.6" text-anchor="middle" textLength="10.97" lengthAdjust="spacingAndGlyphs" fill="#111" stroke="#111" stroke-width="0.12">112E</text><text x="127.29" y="66.95" font-size="5.6" text-anchor="middle" textLength="10.97" lengthAdjust="spacingAndGlyphs" fill="#111" stroke="#111" stroke-width="0.12">116E</text><text x="150.43" y="66.95" font-size="5.6" text-anchor="middle" textLength="11.33" lengthAdjust="spacingAndGlyphs" fill="#111" stroke="#111" stroke-width="0.12">120E</text><text x="-5.6" y="7.37" font-size="5.6" text-anchor="end" textLength="8.90" lengthAdjust="spacingAndGlyphs" fill="#111" stroke="#111" stroke-width="0.12">42N</text><text x="-5.6" y="22.30" font-size="5.6" text-anchor="end" textLength="8.90" lengthAdjust="spacingAndGlyphs" fill="#111" stroke="#111" stroke-width="0.12">39N</text><text x="-5.6" y="37.22" font-size="5.6" text-anchor="end" textLength="8.90" lengthAdjust="spacingAndGlyphs" fill="#111" stroke="#111" stroke-width="0.12">36N</text><text x="-5.6" y="52.14" font-size="5.6" text-anchor="end" textLength="8.90" lengthAdjust="spacingAndGlyphs" fill="#111" stroke="#111" stroke-width="0.12">33N</text><text x="167.70" y="7.37" font-size="5.6" text-anchor="start" textLength="8.90" lengthAdjust="spacingAndGlyphs" fill="#111" stroke="#111" stroke-width="0.12">42N</text><text x="167.70" y="22.30" font-size="5.6" text-anchor="start" textLength="8.90" lengthAdjust="spacingAndGlyphs" fill="#111" stroke="#111" stroke-width="0.12">39N</text><text x="167.70" y="37.22" font-size="5.6" text-anchor="start" textLength="8.90" lengthAdjust="spacingAndGlyphs" fill="#111" stroke="#111" stroke-width="0.12">36N</text><text x="167.70" y="52.14" font-size="5.6" text-anchor="start" textLength="8.90" lengthAdjust="spacingAndGlyphs" fill="#111" stroke="#111" stroke-width="0.12">33N</text><rect x="0.8" y="0.6" width="53.0" height="11.4" fill="#fff" stroke="#aaa" stroke-width="0.8"/><text x="3.15" y="9.0" font-size="6.6" fill="#000" stroke="#000" stroke-width="0.06">(f) Lead=12d diff</text></g>
<g transform="translate(17.40,426.38)"><g clip-path="url(#cb)"><g filter="url(#bl)"><rect x="5" y="0" width="150" height="57" fill="#f4b4b8"/><ellipse cx="19" cy="41" rx="14" ry="7" fill="#f07070" fill-opacity="1"/><ellipse cx="44" cy="43" rx="13" ry="10" fill="#f06060" fill-opacity="1"/><ellipse cx="47.6" cy="38.6" rx="6" ry="3" fill="#f04040" fill-opacity="1"/><ellipse cx="47.6" cy="29.6" rx="7" ry="3" fill="#9090f0" fill-opacity="1"/><ellipse cx="69.6" cy="36.6" rx="7" ry="3.5" fill="#4040f0" fill-opacity="1"/><ellipse cx="79.6" cy="9.6" rx="5" ry="3" fill="#6060f0" fill-opacity="1"/><ellipse cx="73.6" cy="18.6" rx="4" ry="4" fill="#b0b0f0" fill-opacity="1"/><ellipse cx="92" cy="25" rx="17" ry="7" fill="#f07070" fill-opacity="1"/><ellipse cx="91.6" cy="26.6" rx="14" ry="4" fill="#f03030" fill-opacity="1"/><ellipse cx="87.6" cy="39.6" rx="5" ry="2" fill="#c0c0f0" fill-opacity="1"/><ellipse cx="105.6" cy="40.6" rx="3" ry="3" fill="#e83030" fill-opacity="1"/><ellipse cx="120" cy="38.2" rx="10" ry="2.6" fill="#e06060" fill-opacity="1" transform="rotate(-17 120 38.2)"/><ellipse cx="135.5" cy="33.8" rx="5" ry="2.8" fill="#6060f0" fill-opacity="1"/></g></g><use href="#bp" fill="none" stroke="#0a0a0a" stroke-width="1.2" stroke-linejoin="round"/><use href="#rv" fill="none" stroke="#0a0a0a" stroke-width="1.4" stroke-linecap="round"/><rect x="0" y="0" width="162.0" height="57.2" fill="none" stroke="#505050" stroke-width="0.85"/><path d="M11.57,57.20v2.0M11.57,0v-2.0M23.14,57.20v0.9M23.14,0v-0.9M34.71,57.20v2.0M34.71,0v-2.0M46.29,57.20v0.9M46.29,0v-0.9M57.86,57.20v2.0M57.86,0v-2.0M69.43,57.20v0.9M69.43,0v-0.9M81.00,57.20v2.0M81.00,0v-2.0M92.57,57.20v0.9M92.57,0v-0.9M104.14,57.20v2.0M104.14,0v-2.0M115.71,57.20v0.9M115.71,0v-0.9M127.29,57.20v2.0M127.29,0v-2.0M138.86,57.20v0.9M138.86,0v-0.9M150.43,57.20v2.0M150.43,0v-2.0M0,54.71h-0.9M162.00,54.71h0.9M0,49.74h-2.0M162.00,49.74h2.0M0,44.77h-0.9M162.00,44.77h0.9M0,39.79h-0.9M162.00,39.79h0.9M0,34.82h-2.0M162.00,34.82h2.0M0,29.84h-0.9M162.00,29.84h0.9M0,24.87h-0.9M162.00,24.87h0.9M0,19.90h-2.0M162.00,19.90h2.0M0,14.92h-0.9M162.00,14.92h0.9M0,9.95h-0.9M162.00,9.95h0.9M0,4.97h-2.0M162.00,4.97h2.0M0,0.00h-0.9M162.00,0.00h0.9" stroke="#333" stroke-width="0.85" fill="none"/><text x="11.57" y="66.95" font-size="5.6" text-anchor="middle" textLength="8.63" lengthAdjust="spacingAndGlyphs" fill="#111" stroke="#111" stroke-width="0.12">96E</text><text x="34.71" y="66.95" font-size="5.6" text-anchor="middle" textLength="11.33" lengthAdjust="spacingAndGlyphs" fill="#111" stroke="#111" stroke-width="0.12">100E</text><text x="57.86" y="66.95" font-size="5.6" text-anchor="middle" textLength="11.33" lengthAdjust="spacingAndGlyphs" fill="#111" stroke="#111" stroke-width="0.12">104E</text><text x="81.00" y="66.95" font-size="5.6" text-anchor="middle" textLength="11.33" lengthAdjust="spacingAndGlyphs" fill="#111" stroke="#111" stroke-width="0.12">108E</text><text x="104.14" y="66.95" font-size="5.6" text-anchor="middle" textLength="10.97" lengthAdjust="spacingAndGlyphs" fill="#111" stroke="#111" stroke-width="0.12">112E</text><text x="127.29" y="66.95" font-size="5.6" text-anchor="middle" textLength="10.97" lengthAdjust="spacingAndGlyphs" fill="#111" stroke="#111" stroke-width="0.12">116E</text><text x="150.43" y="66.95" font-size="5.6" text-anchor="middle" textLength="11.33" lengthAdjust="spacingAndGlyphs" fill="#111" stroke="#111" stroke-width="0.12">120E</text><text x="-5.6" y="7.37" font-size="5.6" text-anchor="end" textLength="8.90" lengthAdjust="spacingAndGlyphs" fill="#111" stroke="#111" stroke-width="0.12">42N</text><text x="-5.6" y="22.30" font-size="5.6" text-anchor="end" textLength="8.90" lengthAdjust="spacingAndGlyphs" fill="#111" stroke="#111" stroke-width="0.12">39N</text><text x="-5.6" y="37.22" font-size="5.6" text-anchor="end" textLength="8.90" lengthAdjust="spacingAndGlyphs" fill="#111" stroke="#111" stroke-width="0.12">36N</text><text x="-5.6" y="52.14" font-size="5.6" text-anchor="end" textLength="8.90" lengthAdjust="spacingAndGlyphs" fill="#111" stroke="#111" stroke-width="0.12">33N</text><text x="167.70" y="7.37" font-size="5.6" text-anchor="start" textLength="8.90" lengthAdjust="spacingAndGlyphs" fill="#111" stroke="#111" stroke-width="0.12">42N</text><text x="167.70" y="22.30" font-size="5.6" text-anchor="start" textLength="8.90" lengthAdjust="spacingAndGlyphs" fill="#111" stroke="#111" stroke-width="0.12">39N</text><text x="167.70" y="37.22" font-size="5.6" text-anchor="start" textLength="8.90" lengthAdjust="spacingAndGlyphs" fill="#111" stroke="#111" stroke-width="0.12">36N</text><text x="167.70" y="52.14" font-size="5.6" text-anchor="start" textLength="8.90" lengthAdjust="spacingAndGlyphs" fill="#111" stroke="#111" stroke-width="0.12">33N</text><rect x="0.8" y="0.6" width="54.9" height="11.4" fill="#fff" stroke="#aaa" stroke-width="0.8"/><text x="3.15" y="9.0" font-size="6.6" fill="#000" stroke="#000" stroke-width="0.06">(g) Lead=15d diff</text></g>
<g transform="translate(199.40,5.30)"><g clip-path="url(#cb)"><g filter="url(#bl)"><rect x="5" y="0" width="150" height="57" fill="#46979a"/><ellipse cx="20" cy="41" rx="13" ry="5" fill="#78c99c" fill-opacity="1"/><ellipse cx="42" cy="43" rx="10" ry="7" fill="#5cb89c" fill-opacity="0.9"/><ellipse cx="60" cy="35" rx="10" ry="5" fill="#4fa49b" fill-opacity="0.8"/><ellipse cx="80" cy="11" rx="9" ry="5" fill="#52ab9c" fill-opacity="1"/><ellipse cx="82" cy="27" rx="9" ry="9" fill="#3f7a98" fill-opacity="1"/><ellipse cx="62" cy="40" rx="6" ry="3" fill="#3f8a99" fill-opacity="1"/><ellipse cx="100" cy="27" rx="9" ry="15" fill="#40508e" fill-opacity="1"/><ellipse cx="95" cy="27" rx="7" ry="6" fill="#3b3f78" fill-opacity="1"/><ellipse cx="80" cy="40" rx="8" ry="4" fill="#3e4682" fill-opacity="1"/><ellipse cx="92" cy="41" rx="10" ry="4" fill="#3e4a88" fill-opacity="1"/><ellipse cx="107" cy="39" rx="3" ry="3" fill="#2e2448" fill-opacity="1"/><ellipse cx="120" cy="38.2" rx="10" ry="2.6" fill="#2e2448" fill-opacity="1" transform="rotate(-17 120 38.2)"/><ellipse cx="135.5" cy="33.8" rx="5" ry="2.8" fill="#2a2040" fill-opacity="1"/></g></g><use href="#bp" fill="none" stroke="#0a0a0a" stroke-width="1.2" stroke-linejoin="round"/><use href="#rv" fill="none" stroke="#0a0a0a" stroke-width="1.4" stroke-linecap="round"/><rect x="0" y="0" width="162.0" height="57.2" fill="none" stroke="#505050" stroke-width="0.85"/><path d="M11.57,57.20v2.0M11.57,0v-2.0M23.14,57.20v0.9M23.14,0v-0.9M34.71,57.20v2.0M34.71,0v-2.0M46.29,57.20v0.9M46.29,0v-0.9M57.86,57.20v2.0M57.86,0v-2.0M69.43,57.20v0.9M69.43,0v-0.9M81.00,57.20v2.0M81.00,0v-2.0M92.57,57.20v0.9M92.57,0v-0.9M104.14,57.20v2.0M104.14,0v-2.0M115.71,57.20v0.9M115.71,0v-0.9M127.29,57.20v2.0M127.29,0v-2.0M138.86,57.20v0.9M138.86,0v-0.9M150.43,57.20v2.0M150.43,0v-2.0M0,54.71h-0.9M162.00,54.71h0.9M0,49.74h-2.0M162.00,49.74h2.0M0,44.77h-0.9M162.00,44.77h0.9M0,39.79h-0.9M162.00,39.79h0.9M0,34.82h-2.0M162.00,34.82h2.0M0,29.84h-0.9M162.00,29.84h0.9M0,24.87h-0.9M162.00,24.87h0.9M0,19.90h-2.0M162.00,19.90h2.0M0,14.92h-0.9M162.00,14.92h0.9M0,9.95h-0.9M162.00,9.95h0.9M0,4.97h-2.0M162.00,4.97h2.0M0,0.00h-0.9M162.00,0.00h0.9" stroke="#333" stroke-width="0.85" fill="none"/><text x="11.57" y="66.95" font-size="5.6" text-anchor="middle" textLength="8.63" lengthAdjust="spacingAndGlyphs" fill="#111" stroke="#111" stroke-width="0.12">96E</text><text x="34.71" y="66.95" font-size="5.6" text-anchor="middle" textLength="11.33" lengthAdjust="spacingAndGlyphs" fill="#111" stroke="#111" stroke-width="0.12">100E</text><text x="57.86" y="66.95" font-size="5.6" text-anchor="middle" textLength="11.33" lengthAdjust="spacingAndGlyphs" fill="#111" stroke="#111" stroke-width="0.12">104E</text><text x="81.00" y="66.95" font-size="5.6" text-anchor="middle" textLength="11.33" lengthAdjust="spacingAndGlyphs" fill="#111" stroke="#111" stroke-width="0.12">108E</text><text x="104.14" y="66.95" font-size="5.6" text-anchor="middle" textLength="10.97" lengthAdjust="spacingAndGlyphs" fill="#111" stroke="#111" stroke-width="0.12">112E</text><text x="127.29" y="66.95" font-size="5.6" text-anchor="middle" textLength="10.97" lengthAdjust="spacingAndGlyphs" fill="#111" stroke="#111" stroke-width="0.12">116E</text><text x="150.43" y="66.95" font-size="5.6" text-anchor="middle" textLength="11.33" lengthAdjust="spacingAndGlyphs" fill="#111" stroke="#111" stroke-width="0.12">120E</text><text x="167.70" y="7.37" font-size="5.6" text-anchor="start" textLength="8.90" lengthAdjust="spacingAndGlyphs" fill="#111" stroke="#111" stroke-width="0.12">42N</text><text x="167.70" y="22.30" font-size="5.6" text-anchor="start" textLength="8.90" lengthAdjust="spacingAndGlyphs" fill="#111" stroke="#111" stroke-width="0.12">39N</text><text x="167.70" y="37.22" font-size="5.6" text-anchor="start" textLength="8.90" lengthAdjust="spacingAndGlyphs" fill="#111" stroke="#111" stroke-width="0.12">36N</text><text x="167.70" y="52.14" font-size="5.6" text-anchor="start" textLength="8.90" lengthAdjust="spacingAndGlyphs" fill="#111" stroke="#111" stroke-width="0.12">33N</text><rect x="0.8" y="0.6" width="39.0" height="11.4" fill="#fff" stroke="#aaa" stroke-width="0.8"/><text x="3.15" y="9.0" font-size="6.6" fill="#000" stroke="#000" stroke-width="0.06">(h) obs July</text></g>
<g transform="translate(199.40,75.48)"><g clip-path="url(#cb)"><g filter="url(#bl)"><rect x="5" y="0" width="150" height="57" fill="#e81818"/><ellipse cx="19" cy="41" rx="14" ry="7" fill="#e00000" fill-opacity="1"/><ellipse cx="44" cy="43" rx="13" ry="10" fill="#c80000" fill-opacity="1"/><ellipse cx="47.6" cy="43.5" rx="5" ry="3" fill="#a80000" fill-opacity="1"/><ellipse cx="55" cy="32" rx="12" ry="4" fill="#f03838" fill-opacity="1"/><ellipse cx="67.6" cy="29.5" rx="5" ry="3" fill="#f8a0a0" fill-opacity="1"/><ellipse cx="73.6" cy="39.5" rx="5" ry="2" fill="#fcd0d0" fill-opacity="1"/><ellipse cx="83.6" cy="29.5" rx="7" ry="3" fill="#fcc0c0" fill-opacity="1"/><ellipse cx="73.6" cy="9.5" rx="3" ry="2" fill="#a0a0f0" fill-opacity="1"/><ellipse cx="87.6" cy="9.5" rx="4" ry="2" fill="#b8b8f0" fill-opacity="1"/><ellipse cx="87.6" cy="18.5" rx="3" ry="2" fill="#d0c0f0" fill-opacity="1"/><ellipse cx="101.6" cy="23.5" rx="5" ry="6" fill="#c80000" fill-opacity="1"/><ellipse cx="88" cy="10" rx="14" ry="3" fill="#f0d0e0" fill-opacity="1"/><ellipse cx="70" cy="33" rx="12" ry="2" fill="#f8c0c0" fill-opacity="1"/><ellipse cx="62" cy="33" rx="9" ry="2.5" fill="#f8a8a8" fill-opacity="1"/><ellipse cx="80" cy="36" rx="8" ry="2.5" fill="#fcd0d0" fill-opacity="1"/><ellipse cx="85" cy="45" rx="24" ry="3" fill="#b00000" fill-opacity="1"/><ellipse cx="105.6" cy="39.5" rx="4" ry="3" fill="#b00000" fill-opacity="1"/><ellipse cx="120" cy="38.2" rx="10" ry="2.6" fill="#d0d0f4" fill-opacity="1" transform="rotate(-17 120 38.2)"/><ellipse cx="135.5" cy="33.8" rx="5" ry="2.8" fill="#f08080" fill-opacity="1"/></g></g><use href="#bp" fill="none" stroke="#0a0a0a" stroke-width="1.2" stroke-linejoin="round"/><use href="#rv" fill="none" stroke="#0a0a0a" stroke-width="1.4" stroke-linecap="round"/><rect x="0" y="0" width="162.0" height="57.2" fill="none" stroke="#505050" stroke-width="0.85"/><path d="M11.57,57.20v2.0M11.57,0v-2.0M23.14,57.20v0.9M23.14,0v-0.9M34.71,57.20v2.0M34.71,0v-2.0M46.29,57.20v0.9M46.29,0v-0.9M57.86,57.20v2.0M57.86,0v-2.0M69.43,57.20v0.9M69.43,0v-0.9M81.00,57.20v2.0M81.00,0v-2.0M92.57,57.20v0.9M92.57,0v-0.9M104.14,57.20v2.0M104.14,0v-2.0M115.71,57.20v0.9M115.71,0v-0.9M127.29,57.20v2.0M127.29,0v-2.0M138.86,57.20v0.9M138.86,0v-0.9M150.43,57.20v2.0M150.43,0v-2.0M0,54.71h-0.9M162.00,54.71h0.9M0,49.74h-2.0M162.00,49.74h2.0M0,44.77h-0.9M162.00,44.77h0.9M0,39.79h-0.9M162.00,39.79h0.9M0,34.82h-2.0M162.00,34.82h2.0M0,29.84h-0.9M162.00,29.84h0.9M0,24.87h-0.9M162.00,24.87h0.9M0,19.90h-2.0M162.00,19.90h2.0M0,14.92h-0.9M162.00,14.92h0.9M0,9.95h-0.9M162.00,9.95h0.9M0,4.97h-2.0M162.00,4.97h2.0M0,0.00h-0.9M162.00,0.00h0.9" stroke="#333" stroke-width="0.85" fill="none"/><text x="11.57" y="66.95" font-size="5.6" text-anchor="middle" textLength="8.63" lengthAdjust="spacingAndGlyphs" fill="#111" stroke="#111" stroke-width="0.12">96E</text><text x="34.71" y="66.95" font-size="5.6" text-anchor="middle" textLength="11.33" lengthAdjust="spacingAndGlyphs" fill="#111" stroke="#111" stroke-width="0.12">100E</text><text x="57.86" y="66.95" font-size="5.6" text-anchor="middle" textLength="11.33" lengthAdjust="spacingAndGlyphs" fill="#111" stroke="#111" stroke-width="0.12">104E</text><text x="81.00" y="66.95" font-size="5.6" text-anchor="middle" textLength="11.33" lengthAdjust="spacingAndGlyphs" fill="#111" stroke="#111" stroke-width="0.12">108E</text><text x="104.14" y="66.95" font-size="5.6" text-anchor="middle" textLength="10.97" lengthAdjust="spacingAndGlyphs" fill="#111" stroke="#111" stroke-width="0.12">112E</text><text x="127.29" y="66.95" font-size="5.6" text-anchor="middle" textLength="10.97" lengthAdjust="spacingAndGlyphs" fill="#111" stroke="#111" stroke-width="0.12">116E</text><text x="150.43" y="66.95" font-size="5.6" text-anchor="middle" textLength="11.33" lengthAdjust="spacingAndGlyphs" fill="#111" stroke="#111" stroke-width="0.12">120E</text><text x="167.70" y="7.37" font-size="5.6" text-anchor="start" textLength="8.90" lengthAdjust="spacingAndGlyphs" fill="#111" stroke="#111" stroke-width="0.12">42N</text><text x="167.70" y="22.30" font-size="5.6" text-anchor="start" textLength="8.90" lengthAdjust="spacingAndGlyphs" fill="#111" stroke="#111" stroke-width="0.12">39N</text><text x="167.70" y="37.22" font-size="5.6" text-anchor="start" textLength="8.90" lengthAdjust="spacingAndGlyphs" fill="#111" stroke="#111" stroke-width="0.12">36N</text><text x="167.70" y="52.14" font-size="5.6" text-anchor="start" textLength="8.90" lengthAdjust="spacingAndGlyphs" fill="#111" stroke="#111" stroke-width="0.12">33N</text><rect x="0.8" y="0.6" width="49.0" height="11.4" fill="#fff" stroke="#aaa" stroke-width="0.8"/><text x="3.15" y="9.0" font-size="6.6" fill="#000" stroke="#000" stroke-width="0.06">(i) Lead=0d diff</text></g>
<g transform="translate(199.40,145.66)"><g clip-path="url(#cb)"><g filter="url(#bl)"><rect x="5" y="0" width="150" height="57" fill="#f4d0d8"/><ellipse cx="19" cy="41" rx="14" ry="7" fill="#e83838" fill-opacity="1"/><ellipse cx="44" cy="43" rx="13" ry="10" fill="#e00000" fill-opacity="1"/><ellipse cx="47.6" cy="46" rx="5" ry="4" fill="#b00000" fill-opacity="1"/><ellipse cx="49" cy="31" rx="10" ry="4" fill="#f05050" fill-opacity="1"/><ellipse cx="73.6" cy="31.3" rx="5" ry="4" fill="#e81010" fill-opacity="1"/><ellipse cx="91.6" cy="29.3" rx="9" ry="5" fill="#3030f0" fill-opacity="1"/><ellipse cx="97.6" cy="27.3" rx="4" ry="4" fill="#1818e0" fill-opacity="1"/><ellipse cx="87.6" cy="39.3" rx="5" ry="3" fill="#4040f0" fill-opacity="1"/><ellipse cx="73.6" cy="21.3" rx="3" ry="3" fill="#5050f0" fill-opacity="1"/><ellipse cx="67.6" cy="37.3" rx="4" ry="2" fill="#b0b0f0" fill-opacity="1"/><ellipse cx="83.6" cy="13.3" rx="4" ry="3" fill="#8080f0" fill-opacity="1"/><ellipse cx="103.6" cy="11.3" rx="3" ry="2" fill="#f06060" fill-opacity="1"/><ellipse cx="101.6" cy="41.3" rx="4" ry="3" fill="#e82020" fill-opacity="1"/><ellipse cx="109.6" cy="40.3" rx="3" ry="3" fill="#1010d0" fill-opacity="1"/><ellipse cx="120" cy="38.2" rx="10" ry="2.6" fill="#c0c0f0" fill-opacity="1" transform="rotate(-17 120 38.2)"/><ellipse cx="135.5" cy="33.8" rx="5" ry="2.8" fill="#a0a0f0" fill-opacity="1"/></g></g><use href="#bp" fill="none" stroke="#0a0a0a" stroke-width="1.2" stroke-linejoin="round"/><use href="#rv" fill="none" stroke="#0a0a0a" stroke-width="1.4" stroke-linecap="round"/><rect x="0" y="0" width="162.0" height="57.2" fill="none" stroke="#505050" stroke-width="0.85"/><path d="M11.57,57.20v2.0M11.57,0v-2.0M23.14,57.20v0.9M23.14,0v-0.9M34.71,57.20v2.0M34.71,0v-2.0M46.29,57.20v0.9M46.29,0v-0.9M57.86,57.20v2.0M57.86,0v-2.0M69.43,57.20v0.9M69.43,0v-0.9M81.00,57.20v2.0M81.00,0v-2.0M92.57,57.20v0.9M92.57,0v-0.9M104.14,57.20v2.0M104.14,0v-2.0M115.71,57.20v0.9M115.71,0v-0.9M127.29,57.20v2.0M127.29,0v-2.0M138.86,57.20v0.9M138.86,0v-0.9M150.43,57.20v2.0M150.43,0v-2.0M0,54.71h-0.9M162.00,54.71h0.9M0,49.74h-2.0M162.00,49.74h2.0M0,44.77h-0.9M162.00,44.77h0.9M0,39.79h-0.9M162.00,39.79h0.9M0,34.82h-2.0M162.00,34.82h2.0M0,29.84h-0.9M162.00,29.84h0.9M0,24.87h-0.9M162.00,24.87h0.9M0,19.90h-2.0M162.00,19.90h2.0M0,14.92h-0.9M162.00,14.92h0.9M0,9.95h-0.9M162.00,9.95h0.9M0,4.97h-2.0M162.00,4.97h2.0M0,0.00h-0.9M162.00,0.00h0.9" stroke="#333" stroke-width="0.85" fill="none"/><text x="11.57" y="66.95" font-size="5.6" text-anchor="middle" textLength="8.63" lengthAdjust="spacingAndGlyphs" fill="#111" stroke="#111" stroke-width="0.12">96E</text><text x="34.71" y="66.95" font-size="5.6" text-anchor="middle" textLength="11.33" lengthAdjust="spacingAndGlyphs" fill="#111" stroke="#111" stroke-width="0.12">100E</text><text x="57.86" y="66.95" font-size="5.6" text-anchor="middle" textLength="11.33" lengthAdjust="spacingAndGlyphs" fill="#111" stroke="#111" stroke-width="0.12">104E</text><text x="81.00" y="66.95" font-size="5.6" text-anchor="middle" textLength="11.33" lengthAdjust="spacingAndGlyphs" fill="#111" stroke="#111" stroke-width="0.12">108E</text><text x="104.14" y="66.95" font-size="5.6" text-anchor="middle" textLength="10.97" lengthAdjust="spacingAndGlyphs" fill="#111" stroke="#111" stroke-width="0.12">112E</text><text x="127.29" y="66.95" font-size="5.6" text-anchor="middle" textLength="10.97" lengthAdjust="spacingAndGlyphs" fill="#111" stroke="#111" stroke-width="0.12">116E</text><text x="150.43" y="66.95" font-size="5.6" text-anchor="middle" textLength="11.33" lengthAdjust="spacingAndGlyphs" fill="#111" stroke="#111" stroke-width="0.12">120E</text><text x="167.70" y="7.37" font-size="5.6" text-anchor="start" textLength="8.90" lengthAdjust="spacingAndGlyphs" fill="#111" stroke="#111" stroke-width="0.12">42N</text><text x="167.70" y="22.30" font-size="5.6" text-anchor="start" textLength="8.90" lengthAdjust="spacingAndGlyphs" fill="#111" stroke="#111" stroke-width="0.12">39N</text><text x="167.70" y="37.22" font-size="5.6" text-anchor="start" textLength="8.90" lengthAdjust="spacingAndGlyphs" fill="#111" stroke="#111" stroke-width="0.12">36N</text><text x="167.70" y="52.14" font-size="5.6" text-anchor="start" textLength="8.90" lengthAdjust="spacingAndGlyphs" fill="#111" stroke="#111" stroke-width="0.12">33N</text><rect x="0.8" y="0.6" width="49.0" height="11.4" fill="#fff" stroke="#aaa" stroke-width="0.8"/><text x="3.15" y="9.0" font-size="6.6" fill="#000" stroke="#000" stroke-width="0.06">(j) Lead=3d diff</text></g>
<g transform="translate(199.40,215.84)"><g clip-path="url(#cb)"><g filter="url(#bl)"><rect x="5" y="0" width="150" height="57" fill="#e8d0e8"/><ellipse cx="19" cy="41" rx="14" ry="7" fill="#f07070" fill-opacity="1"/><ellipse cx="44" cy="43" rx="13" ry="10" fill="#e00000" fill-opacity="1"/><ellipse cx="47" cy="45" rx="5" ry="4" fill="#c80000" fill-opacity="1"/><ellipse cx="52" cy="31" rx="12" ry="4" fill="#e83838" fill-opacity="1"/><ellipse cx="64" cy="27" rx="7" ry="4" fill="#d0d0f4" fill-opacity="1"/><ellipse cx="80" cy="25" rx="4" ry="10" fill="#f06060" fill-opacity="1" transform="rotate(10 80 25)"/><ellipse cx="93" cy="25" rx="9" ry="12" fill="#4848f0" fill-opacity="1"/><ellipse cx="88" cy="31" rx="6" ry="7" fill="#6868f0" fill-opacity="1"/><ellipse cx="93.6" cy="23.2" rx="4" ry="5" fill="#2020e0" fill-opacity="1"/><ellipse cx="78" cy="11" rx="6" ry="4" fill="#b0b0f0" fill-opacity="1"/><ellipse cx="96" cy="12" rx="8" ry="4" fill="#f0c8d0" fill-opacity="1"/><ellipse cx="73.6" cy="37.2" rx="4" ry="3" fill="#7070f0" fill-opacity="1"/><ellipse cx="83.6" cy="42.2" rx="5" ry="2" fill="#f05050" fill-opacity="1"/><ellipse cx="99.6" cy="41.2" rx="5" ry="3" fill="#e83030" fill-opacity="1"/><ellipse cx="109.6" cy="40.2" rx="3" ry="3" fill="#1010d0" fill-opacity="1"/><ellipse cx="120" cy="38.2" rx="10" ry="2.6" fill="#2020e0" fill-opacity="1" transform="rotate(-17 120 38.2)"/><ellipse cx="135.5" cy="33.8" rx="5" ry="2.8" fill="#1010e0" fill-opacity="1"/></g></g><use href="#bp" fill="none" stroke="#0a0a0a" stroke-width="1.2" stroke-linejoin="round"/><use href="#rv" fill="none" stroke="#0a0a0a" stroke-width="1.4" stroke-linecap="round"/><rect x="0" y="0" width="162.0" height="57.2" fill="none" stroke="#505050" stroke-width="0.85"/><path d="M11.57,57.20v2.0M11.57,0v-2.0M23.14,57.20v0.9M23.14,0v-0.9M34.71,57.20v2.0M34.71,0v-2.0M46.29,57.20v0.9M46.29,0v-0.9M57.86,57.20v2.0M57.86,0v-2.0M69.43,57.20v0.9M69.43,0v-0.9M81.00,57.20v2.0M81.00,0v-2.0M92.57,57.20v0.9M92.57,0v-0.9M104.14,57.20v2.0M104.14,0v-2.0M115.71,57.20v0.9M115.71,0v-0.9M127.29,57.20v2.0M127.29,0v-2.0M138.86,57.20v0.9M138.86,0v-0.9M150.43,57.20v2.0M150.43,0v-2.0M0,54.71h-0.9M162.00,54.71h0.9M0,49.74h-2.0M162.00,49.74h2.0M0,44.77h-0.9M162.00,44.77h0.9M0,39.79h-0.9M162.00,39.79h0.9M0,34.82h-2.0M162.00,34.82h2.0M0,29.84h-0.9M162.00,29.84h0.9M0,24.87h-0.9M162.00,24.87h0.9M0,19.90h-2.0M162.00,19.90h2.0M0,14.92h-0.9M162.00,14.92h0.9M0,9.95h-0.9M162.00,9.95h0.9M0,4.97h-2.0M162.00,4.97h2.0M0,0.00h-0.9M162.00,0.00h0.9" stroke="#333" stroke-width="0.85" fill="none"/><text x="11.57" y="66.95" font-size="5.6" text-anchor="middle" textLength="8.63" lengthAdjust="spacingAndGlyphs" fill="#111" stroke="#111" stroke-width="0.12">96E</text><text x="34.71" y="66.95" font-size="5.6" text-anchor="middle" textLength="11.33" lengthAdjust="spacingAndGlyphs" fill="#111" stroke="#111" stroke-width="0.12">100E</text><text x="57.86" y="66.95" font-size="5.6" text-anchor="middle" textLength="11.33" lengthAdjust="spacingAndGlyphs" fill="#111" stroke="#111" stroke-width="0.12">104E</text><text x="81.00" y="66.95" font-size="5.6" text-anchor="middle" textLength="11.33" lengthAdjust="spacingAndGlyphs" fill="#111" stroke="#111" stroke-width="0.12">108E</text><text x="104.14" y="66.95" font-size="5.6" text-anchor="middle" textLength="10.97" lengthAdjust="spacingAndGlyphs" fill="#111" stroke="#111" stroke-width="0.12">112E</text><text x="127.29" y="66.95" font-size="5.6" text-anchor="middle" textLength="10.97" lengthAdjust="spacingAndGlyphs" fill="#111" stroke="#111" stroke-width="0.12">116E</text><text x="150.43" y="66.95" font-size="5.6" text-anchor="middle" textLength="11.33" lengthAdjust="spacingAndGlyphs" fill="#111" stroke="#111" stroke-width="0.12">120E</text><text x="167.70" y="7.37" font-size="5.6" text-anchor="start" textLength="8.90" lengthAdjust="spacingAndGlyphs" fill="#111" stroke="#111" stroke-width="0.12">42N</text><text x="167.70" y="22.30" font-size="5.6" text-anchor="start" textLength="8.90" lengthAdjust="spacingAndGlyphs" fill="#111" stroke="#111" stroke-width="0.12">39N</text><text x="167.70" y="37.22" font-size="5.6" text-anchor="start" textLength="8.90" lengthAdjust="spacingAndGlyphs" fill="#111" stroke="#111" stroke-width="0.12">36N</text><text x="167.70" y="52.14" font-size="5.6" text-anchor="start" textLength="8.90" lengthAdjust="spacingAndGlyphs" fill="#111" stroke="#111" stroke-width="0.12">33N</text><rect x="0.8" y="0.6" width="50.8" height="11.4" fill="#fff" stroke="#aaa" stroke-width="0.8"/><text x="3.15" y="9.0" font-size="6.6" fill="#000" stroke="#000" stroke-width="0.06">(k) Lead=6d diff</text></g>
<g transform="translate(199.40,286.02)"><g clip-path="url(#cb)"><g filter="url(#bl)"><rect x="5" y="0" width="150" height="57" fill="#8080f0"/><ellipse cx="19" cy="41" rx="14" ry="7" fill="#f07070" fill-opacity="1"/><ellipse cx="44" cy="43" rx="13" ry="10" fill="#f04848" fill-opacity="1"/><ellipse cx="47.6" cy="37" rx="6" ry="3" fill="#e82020" fill-opacity="1"/><ellipse cx="46" cy="30" rx="8" ry="3" fill="#f4a0a0" fill-opacity="1"/><ellipse cx="62" cy="33" rx="8" ry="5" fill="#b8b8f0" fill-opacity="1"/><ellipse cx="75.6" cy="28" rx="5" ry="1.5" fill="#f4a0a0" fill-opacity="1"/><ellipse cx="92" cy="22" rx="13" ry="11" fill="#3c3cf0" fill-opacity="1"/><ellipse cx="93.6" cy="25" rx="8" ry="6" fill="#1818e0" fill-opacity="1"/><ellipse cx="80" cy="12" rx="8" ry="6" fill="#9898f0" fill-opacity="1"/><ellipse cx="84.6" cy="43" rx="7" ry="3" fill="#f02020" fill-opacity="1"/><ellipse cx="99.6" cy="42" rx="7" ry="3" fill="#e81010" fill-opacity="1"/><ellipse cx="120" cy="38.2" rx="10" ry="2.6" fill="#c0c0f0" fill-opacity="1" transform="rotate(-17 120 38.2)"/><ellipse cx="135.5" cy="33.8" rx="5" ry="2.8" fill="#a0a0f0" fill-opacity="1"/></g></g><use href="#bp" fill="none" stroke="#0a0a0a" stroke-width="1.2" stroke-linejoin="round"/><use href="#rv" fill="none" stroke="#0a0a0a" stroke-width="1.4" stroke-linecap="round"/><rect x="0" y="0" width="162.0" height="57.2" fill="none" stroke="#505050" stroke-width="0.85"/><path d="M11.57,57.20v2.0M11.57,0v-2.0M23.14,57.20v0.9M23.14,0v-0.9M34.71,57.20v2.0M34.71,0v-2.0M46.29,57.20v0.9M46.29,0v-0.9M57.86,57.20v2.0M57.86,0v-2.0M69.43,57.20v0.9M69.43,0v-0.9M81.00,57.20v2.0M81.00,0v-2.0M92.57,57.20v0.9M92.57,0v-0.9M104.14,57.20v2.0M104.14,0v-2.0M115.71,57.20v0.9M115.71,0v-0.9M127.29,57.20v2.0M127.29,0v-2.0M138.86,57.20v0.9M138.86,0v-0.9M150.43,57.20v2.0M150.43,0v-2.0M0,54.71h-0.9M162.00,54.71h0.9M0,49.74h-2.0M162.00,49.74h2.0M0,44.77h-0.9M162.00,44.77h0.9M0,39.79h-0.9M162.00,39.79h0.9M0,34.82h-2.0M162.00,34.82h2.0M0,29.84h-0.9M162.00,29.84h0.9M0,24.87h-0.9M162.00,24.87h0.9M0,19.90h-2.0M162.00,19.90h2.0M0,14.92h-0.9M162.00,14.92h0.9M0,9.95h-0.9M162.00,9.95h0.9M0,4.97h-2.0M162.00,4.97h2.0M0,0.00h-0.9M162.00,0.00h0.9" stroke="#333" stroke-width="0.85" fill="none"/><text x="11.57" y="66.95" font-size="5.6" text-anchor="middle" textLength="8.63" lengthAdjust="spacingAndGlyphs" fill="#111" stroke="#111" stroke-width="0.12">96E</text><text x="34.71" y="66.95" font-size="5.6" text-anchor="middle" textLength="11.33" lengthAdjust="spacingAndGlyphs" fill="#111" stroke="#111" stroke-width="0.12">100E</text><text x="57.86" y="66.95" font-size="5.6" text-anchor="middle" textLength="11.33" lengthAdjust="spacingAndGlyphs" fill="#111" stroke="#111" stroke-width="0.12">104E</text><text x="81.00" y="66.95" font-size="5.6" text-anchor="middle" textLength="11.33" lengthAdjust="spacingAndGlyphs" fill="#111" stroke="#111" stroke-width="0.12">108E</text><text x="104.14" y="66.95" font-size="5.6" text-anchor="middle" textLength="10.97" lengthAdjust="spacingAndGlyphs" fill="#111" stroke="#111" stroke-width="0.12">112E</text><text x="127.29" y="66.95" font-size="5.6" text-anchor="middle" textLength="10.97" lengthAdjust="spacingAndGlyphs" fill="#111" stroke="#111" stroke-width="0.12">116E</text><text x="150.43" y="66.95" font-size="5.6" text-anchor="middle" textLength="11.33" lengthAdjust="spacingAndGlyphs" fill="#111" stroke="#111" stroke-width="0.12">120E</text><text x="167.70" y="7.37" font-size="5.6" text-anchor="start" textLength="8.90" lengthAdjust="spacingAndGlyphs" fill="#111" stroke="#111" stroke-width="0.12">42N</text><text x="167.70" y="22.30" font-size="5.6" text-anchor="start" textLength="8.90" lengthAdjust="spacingAndGlyphs" fill="#111" stroke="#111" stroke-width="0.12">39N</text><text x="167.70" y="37.22" font-size="5.6" text-anchor="start" textLength="8.90" lengthAdjust="spacingAndGlyphs" fill="#111" stroke="#111" stroke-width="0.12">36N</text><text x="167.70" y="52.14" font-size="5.6" text-anchor="start" textLength="8.90" lengthAdjust="spacingAndGlyphs" fill="#111" stroke="#111" stroke-width="0.12">33N</text><rect x="0.8" y="0.6" width="49.0" height="11.4" fill="#fff" stroke="#aaa" stroke-width="0.8"/><text x="3.15" y="9.0" font-size="6.6" fill="#000" stroke="#000" stroke-width="0.06">(l) Lead=9d diff</text></g>
<g transform="translate(199.40,356.20)"><g clip-path="url(#cb)"><g filter="url(#bl)"><rect x="5" y="0" width="150" height="57" fill="#5c5cf0"/><ellipse cx="19" cy="41" rx="14" ry="7" fill="#f4a0a0" fill-opacity="1"/><ellipse cx="44" cy="43" rx="13" ry="10" fill="#f06868" fill-opacity="1"/><ellipse cx="47.6" cy="42.8" rx="6" ry="4" fill="#e82020" fill-opacity="1"/><ellipse cx="48" cy="30" rx="8" ry="3" fill="#f08080" fill-opacity="1"/><ellipse cx="64" cy="31" rx="7" ry="5" fill="#b8b8f0" fill-opacity="1"/><ellipse cx="92" cy="22" rx="12" ry="9" fill="#3838f0" fill-opacity="1"/><ellipse cx="91.6" cy="24.8" rx="8" ry="5" fill="#1818e0" fill-opacity="1"/><ellipse cx="85.6" cy="16.8" rx="4" ry="3" fill="#3030f0" fill-opacity="1"/><ellipse cx="80" cy="12" rx="7" ry="5" fill="#8888f0" fill-opacity="1"/><ellipse cx="87.6" cy="11.8" rx="2" ry="1.5" fill="#f0b0c0" fill-opacity="1"/><ellipse cx="81.6" cy="28.8" rx="3" ry="2" fill="#f0c0d0" fill-opacity="1"/><ellipse cx="73" cy="38" rx="6" ry="3" fill="#4040f0" fill-opacity="1"/><ellipse cx="83.6" cy="42.8" rx="6" ry="2.5" fill="#f04040" fill-opacity="1"/><ellipse cx="101.6" cy="40.8" rx="6" ry="3" fill="#e81010" fill-opacity="1"/><ellipse cx="120" cy="38.2" rx="10" ry="2.6" fill="#b0b0f0" fill-opacity="1" transform="rotate(-17 120 38.2)"/><ellipse cx="135.5" cy="33.8" rx="5" ry="2.8" fill="#a0a0f0" fill-opacity="1"/></g></g><use href="#bp" fill="none" stroke="#0a0a0a" stroke-width="1.2" stroke-linejoin="round"/><use href="#rv" fill="none" stroke="#0a0a0a" stroke-width="1.4" stroke-linecap="round"/><rect x="0" y="0" width="162.0" height="57.2" fill="none" stroke="#505050" stroke-width="0.85"/><path d="M11.57,57.20v2.0M11.57,0v-2.0M23.14,57.20v0.9M23.14,0v-0.9M34.71,57.20v2.0M34.71,0v-2.0M46.29,57.20v0.9M46.29,0v-0.9M57.86,57.20v2.0M57.86,0v-2.0M69.43,57.20v0.9M69.43,0v-0.9M81.00,57.20v2.0M81.00,0v-2.0M92.57,57.20v0.9M92.57,0v-0.9M104.14,57.20v2.0M104.14,0v-2.0M115.71,57.20v0.9M115.71,0v-0.9M127.29,57.20v2.0M127.29,0v-2.0M138.86,57.20v0.9M138.86,0v-0.9M150.43,57.20v2.0M150.43,0v-2.0M0,54.71h-0.9M162.00,54.71h0.9M0,49.74h-2.0M162.00,49.74h2.0M0,44.77h-0.9M162.00,44.77h0.9M0,39.79h-0.9M162.00,39.79h0.9M0,34.82h-2.0M162.00,34.82h2.0M0,29.84h-0.9M162.00,29.84h0.9M0,24.87h-0.9M162.00,24.87h0.9M0,19.90h-2.0M162.00,19.90h2.0M0,14.92h-0.9M162.00,14.92h0.9M0,9.95h-0.9M162.00,9.95h0.9M0,4.97h-2.0M162.00,4.97h2.0M0,0.00h-0.9M162.00,0.00h0.9" stroke="#333" stroke-width="0.85" fill="none"/><text x="11.57" y="66.95" font-size="5.6" text-anchor="middle" textLength="8.63" lengthAdjust="spacingAndGlyphs" fill="#111" stroke="#111" stroke-width="0.12">96E</text><text x="34.71" y="66.95" font-size="5.6" text-anchor="middle" textLength="11.33" lengthAdjust="spacingAndGlyphs" fill="#111" stroke="#111" stroke-width="0.12">100E</text><text x="57.86" y="66.95" font-size="5.6" text-anchor="middle" textLength="11.33" lengthAdjust="spacingAndGlyphs" fill="#111" stroke="#111" stroke-width="0.12">104E</text><text x="81.00" y="66.95" font-size="5.6" text-anchor="middle" textLength="11.33" lengthAdjust="spacingAndGlyphs" fill="#111" stroke="#111" stroke-width="0.12">108E</text><text x="104.14" y="66.95" font-size="5.6" text-anchor="middle" textLength="10.97" lengthAdjust="spacingAndGlyphs" fill="#111" stroke="#111" stroke-width="0.12">112E</text><text x="127.29" y="66.95" font-size="5.6" text-anchor="middle" textLength="10.97" lengthAdjust="spacingAndGlyphs" fill="#111" stroke="#111" stroke-width="0.12">116E</text><text x="150.43" y="66.95" font-size="5.6" text-anchor="middle" textLength="11.33" lengthAdjust="spacingAndGlyphs" fill="#111" stroke="#111" stroke-width="0.12">120E</text><text x="167.70" y="7.37" font-size="5.6" text-anchor="start" textLength="8.90" lengthAdjust="spacingAndGlyphs" fill="#111" stroke="#111" stroke-width="0.12">42N</text><text x="167.70" y="22.30" font-size="5.6" text-anchor="start" textLength="8.90" lengthAdjust="spacingAndGlyphs" fill="#111" stroke="#111" stroke-width="0.12">39N</text><text x="167.70" y="37.22" font-size="5.6" text-anchor="start" textLength="8.90" lengthAdjust="spacingAndGlyphs" fill="#111" stroke="#111" stroke-width="0.12">36N</text><text x="167.70" y="52.14" font-size="5.6" text-anchor="start" textLength="8.90" lengthAdjust="spacingAndGlyphs" fill="#111" stroke="#111" stroke-width="0.12">33N</text><rect x="0.8" y="0.6" width="56.7" height="11.4" fill="#fff" stroke="#aaa" stroke-width="0.8"/><text x="3.15" y="9.0" font-size="6.6" fill="#000" stroke="#000" stroke-width="0.06">(m) Lead=12d diff</text></g>
<g transform="translate(199.40,426.38)"><g clip-path="url(#cb)"><g filter="url(#bl)"><rect x="5" y="0" width="150" height="57" fill="#4848f0"/><ellipse cx="19" cy="41" rx="14" ry="7" fill="#f4b0b0" fill-opacity="1"/><ellipse cx="44" cy="43" rx="13" ry="10" fill="#f08080" fill-opacity="1"/><ellipse cx="47.6" cy="42.6" rx="6" ry="4" fill="#f06060" fill-opacity="1"/><ellipse cx="47" cy="30" rx="8" ry="3" fill="#d0b0d8" fill-opacity="1"/><ellipse cx="64" cy="31" rx="8" ry="5" fill="#7070f0" fill-opacity="1"/><ellipse cx="91.6" cy="26.6" rx="12" ry="8" fill="#1818e0" fill-opacity="1"/><ellipse cx="77.6" cy="38.6" rx="7" ry="3" fill="#1818e0" fill-opacity="1"/><ellipse cx="80" cy="13" rx="7" ry="6" fill="#9090f0" fill-opacity="1"/><ellipse cx="95.6" cy="13.6" rx="3" ry="2" fill="#f0a0b0" fill-opacity="1"/><ellipse cx="99.6" cy="40.6" rx="5" ry="3" fill="#f03030" fill-opacity="1"/><ellipse cx="74" cy="14" rx="4" ry="3" fill="#b0b0f0" fill-opacity="1"/><ellipse cx="76" cy="28" rx="4" ry="2" fill="#a0a0f0" fill-opacity="1"/><ellipse cx="102" cy="29" rx="3" ry="3" fill="#b0b0f0" fill-opacity="1"/><ellipse cx="120" cy="38.2" rx="10" ry="2.6" fill="#4040e0" fill-opacity="1" transform="rotate(-17 120 38.2)"/><ellipse cx="135.5" cy="33.8" rx="5" ry="2.8" fill="#3030e0" fill-opacity="1"/></g></g><use href="#bp" fill="none" stroke="#0a0a0a" stroke-width="1.2" stroke-linejoin="round"/><use href="#rv" fill="none" stroke="#0a0a0a" stroke-width="1.4" stroke-linecap="round"/><rect x="0" y="0" width="162.0" height="57.2" fill="none" stroke="#505050" stroke-width="0.85"/><path d="M11.57,57.20v2.0M11.57,0v-2.0M23.14,57.20v0.9M23.14,0v-0.9M34.71,57.20v2.0M34.71,0v-2.0M46.29,57.20v0.9M46.29,0v-0.9M57.86,57.20v2.0M57.86,0v-2.0M69.43,57.20v0.9M69.43,0v-0.9M81.00,57.20v2.0M81.00,0v-2.0M92.57,57.20v0.9M92.57,0v-0.9M104.14,57.20v2.0M104.14,0v-2.0M115.71,57.20v0.9M115.71,0v-0.9M127.29,57.20v2.0M127.29,0v-2.0M138.86,57.20v0.9M138.86,0v-0.9M150.43,57.20v2.0M150.43,0v-2.0M0,54.71h-0.9M162.00,54.71h0.9M0,49.74h-2.0M162.00,49.74h2.0M0,44.77h-0.9M162.00,44.77h0.9M0,39.79h-0.9M162.00,39.79h0.9M0,34.82h-2.0M162.00,34.82h2.0M0,29.84h-0.9M162.00,29.84h0.9M0,24.87h-0.9M162.00,24.87h0.9M0,19.90h-2.0M162.00,19.90h2.0M0,14.92h-0.9M162.00,14.92h0.9M0,9.95h-0.9M162.00,9.95h0.9M0,4.97h-2.0M162.00,4.97h2.0M0,0.00h-0.9M162.00,0.00h0.9" stroke="#333" stroke-width="0.85" fill="none"/><text x="11.57" y="66.95" font-size="5.6" text-anchor="middle" textLength="8.63" lengthAdjust="spacingAndGlyphs" fill="#111" stroke="#111" stroke-width="0.12">96E</text><text x="34.71" y="66.95" font-size="5.6" text-anchor="middle" textLength="11.33" lengthAdjust="spacingAndGlyphs" fill="#111" stroke="#111" stroke-width="0.12">100E</text><text x="57.86" y="66.95" font-size="5.6" text-anchor="middle" textLength="11.33" lengthAdjust="spacingAndGlyphs" fill="#111" stroke="#111" stroke-width="0.12">104E</text><text x="81.00" y="66.95" font-size="5.6" text-anchor="middle" textLength="11.33" lengthAdjust="spacingAndGlyphs" fill="#111" stroke="#111" stroke-width="0.12">108E</text><text x="104.14" y="66.95" font-size="5.6" text-anchor="middle" textLength="10.97" lengthAdjust="spacingAndGlyphs" fill="#111" stroke="#111" stroke-width="0.12">112E</text><text x="127.29" y="66.95" font-size="5.6" text-anchor="middle" textLength="10.97" lengthAdjust="spacingAndGlyphs" fill="#111" stroke="#111" stroke-width="0.12">116E</text><text x="150.43" y="66.95" font-size="5.6" text-anchor="middle" textLength="11.33" lengthAdjust="spacingAndGlyphs" fill="#111" stroke="#111" stroke-width="0.12">120E</text><text x="167.70" y="7.37" font-size="5.6" text-anchor="start" textLength="8.90" lengthAdjust="spacingAndGlyphs" fill="#111" stroke="#111" stroke-width="0.12">42N</text><text x="167.70" y="22.30" font-size="5.6" text-anchor="start" textLength="8.90" lengthAdjust="spacingAndGlyphs" fill="#111" stroke="#111" stroke-width="0.12">39N</text><text x="167.70" y="37.22" font-size="5.6" text-anchor="start" textLength="8.90" lengthAdjust="spacingAndGlyphs" fill="#111" stroke="#111" stroke-width="0.12">36N</text><text x="167.70" y="52.14" font-size="5.6" text-anchor="start" textLength="8.90" lengthAdjust="spacingAndGlyphs" fill="#111" stroke="#111" stroke-width="0.12">33N</text><rect x="0.8" y="0.6" width="54.9" height="11.4" fill="#fff" stroke="#aaa" stroke-width="0.8"/><text x="3.15" y="9.0" font-size="6.6" fill="#000" stroke="#000" stroke-width="0.06">(n) Lead=15d diff</text></g>
<g transform="translate(381.50,5.30)"><g clip-path="url(#cb)"><g filter="url(#bl)"><rect x="5" y="0" width="150" height="57" fill="#44939a"/><ellipse cx="20" cy="41" rx="13" ry="5" fill="#7ccb9c" fill-opacity="1"/><ellipse cx="42" cy="43" rx="10" ry="7" fill="#58b39c" fill-opacity="1"/><ellipse cx="53" cy="36" rx="8" ry="4" fill="#3f8a99" fill-opacity="0.8"/><ellipse cx="78" cy="12" rx="8" ry="6" fill="#5cb89c" fill-opacity="1"/><ellipse cx="84" cy="22" rx="8" ry="6" fill="#4a9f9b" fill-opacity="1"/><ellipse cx="100" cy="27" rx="7" ry="16" fill="#3f6396" fill-opacity="1"/><ellipse cx="90" cy="40" rx="14" ry="5" fill="#3f6596" fill-opacity="1"/><ellipse cx="80" cy="41" rx="6" ry="3" fill="#3f7a98" fill-opacity="1"/><ellipse cx="94" cy="29.5" rx="5" ry="16" fill="#424c8a" fill-opacity="1" transform="rotate(41 94 29.5)"/><ellipse cx="106" cy="38" rx="4" ry="4" fill="#3f5590" fill-opacity="1"/><ellipse cx="120" cy="38.2" rx="10" ry="2.6" fill="#302650" fill-opacity="1" transform="rotate(-17 120 38.2)"/><ellipse cx="135.5" cy="33.8" rx="5" ry="2.8" fill="#2a2040" fill-opacity="1"/></g></g><use href="#bp" fill="none" stroke="#0a0a0a" stroke-width="1.2" stroke-linejoin="round"/><use href="#rv" fill="none" stroke="#0a0a0a" stroke-width="1.4" stroke-linecap="round"/><rect x="0" y="0" width="162.0" height="57.2" fill="none" stroke="#505050" stroke-width="0.85"/><path d="M11.57,57.20v2.0M11.57,0v-2.0M23.14,57.20v0.9M23.14,0v-0.9M34.71,57.20v2.0M34.71,0v-2.0M46.29,57.20v0.9M46.29,0v-0.9M57.86,57.20v2.0M57.86,0v-2.0M69.43,57.20v0.9M69.43,0v-0.9M81.00,57.20v2.0M81.00,0v-2.0M92.57,57.20v0.9M92.57,0v-0.9M104.14,57.20v2.0M104.14,0v-2.0M115.71,57.20v0.9M115.71,0v-0.9M127.29,57.20v2.0M127.29,0v-2.0M138.86,57.20v0.9M138.86,0v-0.9M150.43,57.20v2.0M150.43,0v-2.0M0,54.71h-0.9M162.00,54.71h0.9M0,49.74h-2.0M162.00,49.74h2.0M0,44.77h-0.9M162.00,44.77h0.9M0,39.79h-0.9M162.00,39.79h0.9M0,34.82h-2.0M162.00,34.82h2.0M0,29.84h-0.9M162.00,29.84h0.9M0,24.87h-0.9M162.00,24.87h0.9M0,19.90h-2.0M162.00,19.90h2.0M0,14.92h-0.9M162.00,14.92h0.9M0,9.95h-0.9M162.00,9.95h0.9M0,4.97h-2.0M162.00,4.97h2.0M0,0.00h-0.9M162.00,0.00h0.9" stroke="#333" stroke-width="0.85" fill="none"/><text x="11.57" y="66.95" font-size="5.6" text-anchor="middle" textLength="8.63" lengthAdjust="spacingAndGlyphs" fill="#111" stroke="#111" stroke-width="0.12">96E</text><text x="34.71" y="66.95" font-size="5.6" text-anchor="middle" textLength="11.33" lengthAdjust="spacingAndGlyphs" fill="#111" stroke="#111" stroke-width="0.12">100E</text><text x="57.86" y="66.95" font-size="5.6" text-anchor="middle" textLength="11.33" lengthAdjust="spacingAndGlyphs" fill="#111" stroke="#111" stroke-width="0.12">104E</text><text x="81.00" y="66.95" font-size="5.6" text-anchor="middle" textLength="11.33" lengthAdjust="spacingAndGlyphs" fill="#111" stroke="#111" stroke-width="0.12">108E</text><text x="104.14" y="66.95" font-size="5.6" text-anchor="middle" textLength="10.97" lengthAdjust="spacingAndGlyphs" fill="#111" stroke="#111" stroke-width="0.12">112E</text><text x="127.29" y="66.95" font-size="5.6" text-anchor="middle" textLength="10.97" lengthAdjust="spacingAndGlyphs" fill="#111" stroke="#111" stroke-width="0.12">116E</text><text x="150.43" y="66.95" font-size="5.6" text-anchor="middle" textLength="11.33" lengthAdjust="spacingAndGlyphs" fill="#111" stroke="#111" stroke-width="0.12">120E</text><rect x="0.8" y="0.6" width="47.5" height="11.4" fill="#fff" stroke="#aaa" stroke-width="0.8"/><text x="3.15" y="9.0" font-size="6.6" fill="#000" stroke="#000" stroke-width="0.06">(o) obs August</text></g>
<g transform="translate(381.50,75.48)"><g clip-path="url(#cb)"><g filter="url(#bl)"><rect x="5" y="0" width="150" height="57" fill="#e83030"/><ellipse cx="19" cy="41" rx="14" ry="7" fill="#e00000" fill-opacity="1"/><ellipse cx="44" cy="43" rx="13" ry="10" fill="#c80000" fill-opacity="1"/><ellipse cx="37.5" cy="43.5" rx="5" ry="3" fill="#b00000" fill-opacity="1"/><ellipse cx="47.5" cy="31.5" rx="6" ry="2" fill="#fcd0d0" fill-opacity="1"/><ellipse cx="63.5" cy="29.5" rx="5" ry="2" fill="#fcc0c0" fill-opacity="1"/><ellipse cx="88" cy="14" rx="16" ry="8" fill="#f8d0d0" fill-opacity="1"/><ellipse cx="77.5" cy="11.5" rx="3" ry="2" fill="#8080f0" fill-opacity="1"/><ellipse cx="99.5" cy="15.5" rx="4" ry="4" fill="#6060f0" fill-opacity="1"/><ellipse cx="90" cy="26" rx="14" ry="5" fill="#e02020" fill-opacity="1"/><ellipse cx="77.5" cy="23.5" rx="4" ry="2" fill="#fad0d0" fill-opacity="1"/><ellipse cx="79.5" cy="35.5" rx="3" ry="3" fill="#8080f0" fill-opacity="1"/><ellipse cx="95.5" cy="38.5" rx="6" ry="2" fill="#a0a0f0" fill-opacity="1"/><ellipse cx="85" cy="44" rx="20" ry="3" fill="#d00000" fill-opacity="1"/><ellipse cx="120" cy="38.2" rx="10" ry="2.6" fill="#4040e0" fill-opacity="1" transform="rotate(-17 120 38.2)"/><ellipse cx="135.5" cy="33.8" rx="5" ry="2.8" fill="#5050e0" fill-opacity="1"/></g></g><use href="#bp" fill="none" stroke="#0a0a0a" stroke-width="1.2" stroke-linejoin="round"/><use href="#rv" fill="none" stroke="#0a0a0a" stroke-width="1.4" stroke-linecap="round"/><rect x="0" y="0" width="162.0" height="57.2" fill="none" stroke="#505050" stroke-width="0.85"/><path d="M11.57,57.20v2.0M11.57,0v-2.0M23.14,57.20v0.9M23.14,0v-0.9M34.71,57.20v2.0M34.71,0v-2.0M46.29,57.20v0.9M46.29,0v-0.9M57.86,57.20v2.0M57.86,0v-2.0M69.43,57.20v0.9M69.43,0v-0.9M81.00,57.20v2.0M81.00,0v-2.0M92.57,57.20v0.9M92.57,0v-0.9M104.14,57.20v2.0M104.14,0v-2.0M115.71,57.20v0.9M115.71,0v-0.9M127.29,57.20v2.0M127.29,0v-2.0M138.86,57.20v0.9M138.86,0v-0.9M150.43,57.20v2.0M150.43,0v-2.0M0,54.71h-0.9M162.00,54.71h0.9M0,49.74h-2.0M162.00,49.74h2.0M0,44.77h-0.9M162.00,44.77h0.9M0,39.79h-0.9M162.00,39.79h0.9M0,34.82h-2.0M162.00,34.82h2.0M0,29.84h-0.9M162.00,29.84h0.9M0,24.87h-0.9M162.00,24.87h0.9M0,19.90h-2.0M162.00,19.90h2.0M0,14.92h-0.9M162.00,14.92h0.9M0,9.95h-0.9M162.00,9.95h0.9M0,4.97h-2.0M162.00,4.97h2.0M0,0.00h-0.9M162.00,0.00h0.9" stroke="#333" stroke-width="0.85" fill="none"/><text x="11.57" y="66.95" font-size="5.6" text-anchor="middle" textLength="8.63" lengthAdjust="spacingAndGlyphs" fill="#111" stroke="#111" stroke-width="0.12">96E</text><text x="34.71" y="66.95" font-size="5.6" text-anchor="middle" textLength="11.33" lengthAdjust="spacingAndGlyphs" fill="#111" stroke="#111" stroke-width="0.12">100E</text><text x="57.86" y="66.95" font-size="5.6" text-anchor="middle" textLength="11.33" lengthAdjust="spacingAndGlyphs" fill="#111" stroke="#111" stroke-width="0.12">104E</text><text x="81.00" y="66.95" font-size="5.6" text-anchor="middle" textLength="11.33" lengthAdjust="spacingAndGlyphs" fill="#111" stroke="#111" stroke-width="0.12">108E</text><text x="104.14" y="66.95" font-size="5.6" text-anchor="middle" textLength="10.97" lengthAdjust="spacingAndGlyphs" fill="#111" stroke="#111" stroke-width="0.12">112E</text><text x="127.29" y="66.95" font-size="5.6" text-anchor="middle" textLength="10.97" lengthAdjust="spacingAndGlyphs" fill="#111" stroke="#111" stroke-width="0.12">116E</text><text x="150.43" y="66.95" font-size="5.6" text-anchor="middle" textLength="11.33" lengthAdjust="spacingAndGlyphs" fill="#111" stroke="#111" stroke-width="0.12">120E</text><rect x="0.8" y="0.6" width="51.2" height="11.4" fill="#fff" stroke="#aaa" stroke-width="0.8"/><text x="3.15" y="9.0" font-size="6.6" fill="#000" stroke="#000" stroke-width="0.06">(p) Lead=0d diff</text></g>
<g transform="translate(381.50,145.66)"><g clip-path="url(#cb)"><g filter="url(#bl)"><rect x="5" y="0" width="150" height="57" fill="#f4a8a8"/><ellipse cx="19" cy="41" rx="14" ry="7" fill="#e01818" fill-opacity="1"/><ellipse cx="44" cy="43" rx="13" ry="10" fill="#d00000" fill-opacity="1"/><ellipse cx="43.5" cy="39.3" rx="7" ry="4" fill="#b00000" fill-opacity="1"/><ellipse cx="52" cy="31" rx="14" ry="4" fill="#f05050" fill-opacity="1"/><ellipse cx="66" cy="32" rx="9" ry="4" fill="#f48080" fill-opacity="1"/><ellipse cx="57.5" cy="33.3" rx="4" ry="2" fill="#c0c0f0" fill-opacity="1"/><ellipse cx="79.5" cy="35.3" rx="5" ry="3" fill="#7070f0" fill-opacity="1"/><ellipse cx="87.5" cy="40.3" rx="4" ry="2" fill="#a0a0f0" fill-opacity="1"/><ellipse cx="85" cy="12" rx="9" ry="5" fill="#e0d0f0" fill-opacity="1"/><ellipse cx="79.5" cy="10.3" rx="3" ry="2" fill="#9090f0" fill-opacity="1"/><ellipse cx="88" cy="26" rx="14" ry="7" fill="#f07070" fill-opacity="1"/><ellipse cx="99.5" cy="19.3" rx="3" ry="4" fill="#7070f0" fill-opacity="1"/><ellipse cx="103.5" cy="31" rx="7" ry="6" fill="#e81010" fill-opacity="1"/><ellipse cx="120" cy="38.2" rx="10" ry="2.6" fill="#4040e0" fill-opacity="1" transform="rotate(-17 120 38.2)"/><ellipse cx="135.5" cy="33.8" rx="5" ry="2.8" fill="#3030e0" fill-opacity="1"/></g></g><use href="#bp" fill="none" stroke="#0a0a0a" stroke-width="1.2" stroke-linejoin="round"/><use href="#rv" fill="none" stroke="#0a0a0a" stroke-width="1.4" stroke-linecap="round"/><rect x="0" y="0" width="162.0" height="57.2" fill="none" stroke="#505050" stroke-width="0.85"/><path d="M11.57,57.20v2.0M11.57,0v-2.0M23.14,57.20v0.9M23.14,0v-0.9M34.71,57.20v2.0M34.71,0v-2.0M46.29,57.20v0.9M46.29,0v-0.9M57.86,57.20v2.0M57.86,0v-2.0M69.43,57.20v0.9M69.43,0v-0.9M81.00,57.20v2.0M81.00,0v-2.0M92.57,57.20v0.9M92.57,0v-0.9M104.14,57.20v2.0M104.14,0v-2.0M115.71,57.20v0.9M115.71,0v-0.9M127.29,57.20v2.0M127.29,0v-2.0M138.86,57.20v0.9M138.86,0v-0.9M150.43,57.20v2.0M150.43,0v-2.0M0,54.71h-0.9M162.00,54.71h0.9M0,49.74h-2.0M162.00,49.74h2.0M0,44.77h-0.9M162.00,44.77h0.9M0,39.79h-0.9M162.00,39.79h0.9M0,34.82h-2.0M162.00,34.82h2.0M0,29.84h-0.9M162.00,29.84h0.9M0,24.87h-0.9M162.00,24.87h0.9M0,19.90h-2.0M162.00,19.90h2.0M0,14.92h-0.9M162.00,14.92h0.9M0,9.95h-0.9M162.00,9.95h0.9M0,4.97h-2.0M162.00,4.97h2.0M0,0.00h-0.9M162.00,0.00h0.9" stroke="#333" stroke-width="0.85" fill="none"/><text x="11.57" y="66.95" font-size="5.6" text-anchor="middle" textLength="8.63" lengthAdjust="spacingAndGlyphs" fill="#111" stroke="#111" stroke-width="0.12">96E</text><text x="34.71" y="66.95" font-size="5.6" text-anchor="middle" textLength="11.33" lengthAdjust="spacingAndGlyphs" fill="#111" stroke="#111" stroke-width="0.12">100E</text><text x="57.86" y="66.95" font-size="5.6" text-anchor="middle" textLength="11.33" lengthAdjust="spacingAndGlyphs" fill="#111" stroke="#111" stroke-width="0.12">104E</text><text x="81.00" y="66.95" font-size="5.6" text-anchor="middle" textLength="11.33" lengthAdjust="spacingAndGlyphs" fill="#111" stroke="#111" stroke-width="0.12">108E</text><text x="104.14" y="66.95" font-size="5.6" text-anchor="middle" textLength="10.97" lengthAdjust="spacingAndGlyphs" fill="#111" stroke="#111" stroke-width="0.12">112E</text><text x="127.29" y="66.95" font-size="5.6" text-anchor="middle" textLength="10.97" lengthAdjust="spacingAndGlyphs" fill="#111" stroke="#111" stroke-width="0.12">116E</text><text x="150.43" y="66.95" font-size="5.6" text-anchor="middle" textLength="11.33" lengthAdjust="spacingAndGlyphs" fill="#111" stroke="#111" stroke-width="0.12">120E</text><rect x="0.8" y="0.6" width="51.2" height="11.4" fill="#fff" stroke="#aaa" stroke-width="0.8"/><text x="3.15" y="9.0" font-size="6.6" fill="#000" stroke="#000" stroke-width="0.06">(q) Lead=3d diff</text></g>
<g transform="translate(381.50,215.84)"><g clip-path="url(#cb)"><g filter="url(#bl)"><rect x="5" y="0" width="150" height="57" fill="#f2b0b8"/><ellipse cx="19" cy="41" rx="14" ry="7" fill="#f07070" fill-opacity="1"/><ellipse cx="44" cy="43" rx="13" ry="10" fill="#e00000" fill-opacity="1"/><ellipse cx="43.5" cy="41.2" rx="5" ry="4" fill="#c80000" fill-opacity="1"/><ellipse cx="52" cy="31" rx="12" ry="3" fill="#f04848" fill-opacity="1"/><ellipse cx="47.5" cy="29.2" rx="4" ry="2" fill="#c0c0f0" fill-opacity="1"/><ellipse cx="71.5" cy="37.2" rx="5" ry="3" fill="#9090f0" fill-opacity="1"/><ellipse cx="88" cy="15" rx="18" ry="9" fill="#a8a8f0" fill-opacity="1"/><ellipse cx="99.5" cy="18.2" rx="5" ry="5" fill="#3030f0" fill-opacity="1"/><ellipse cx="94.5" cy="32" rx="15" ry="5" fill="#e82020" fill-opacity="1" transform="rotate(-22 94.5 32)"/><ellipse cx="103.5" cy="25.2" rx="5" ry="4" fill="#e82020" fill-opacity="1"/><ellipse cx="90" cy="43" rx="12" ry="2.5" fill="#f06060" fill-opacity="1"/><ellipse cx="120" cy="38.2" rx="10" ry="2.6" fill="#4040e0" fill-opacity="1" transform="rotate(-17 120 38.2)"/><ellipse cx="135.5" cy="33.8" rx="5" ry="2.8" fill="#1010e0" fill-opacity="1"/></g></g><use href="#bp" fill="none" stroke="#0a0a0a" stroke-width="1.2" stroke-linejoin="round"/><use href="#rv" fill="none" stroke="#0a0a0a" stroke-width="1.4" stroke-linecap="round"/><rect x="0" y="0" width="162.0" height="57.2" fill="none" stroke="#505050" stroke-width="0.85"/><path d="M11.57,57.20v2.0M11.57,0v-2.0M23.14,57.20v0.9M23.14,0v-0.9M34.71,57.20v2.0M34.71,0v-2.0M46.29,57.20v0.9M46.29,0v-0.9M57.86,57.20v2.0M57.86,0v-2.0M69.43,57.20v0.9M69.43,0v-0.9M81.00,57.20v2.0M81.00,0v-2.0M92.57,57.20v0.9M92.57,0v-0.9M104.14,57.20v2.0M104.14,0v-2.0M115.71,57.20v0.9M115.71,0v-0.9M127.29,57.20v2.0M127.29,0v-2.0M138.86,57.20v0.9M138.86,0v-0.9M150.43,57.20v2.0M150.43,0v-2.0M0,54.71h-0.9M162.00,54.71h0.9M0,49.74h-2.0M162.00,49.74h2.0M0,44.77h-0.9M162.00,44.77h0.9M0,39.79h-0.9M162.00,39.79h0.9M0,34.82h-2.0M162.00,34.82h2.0M0,29.84h-0.9M162.00,29.84h0.9M0,24.87h-0.9M162.00,24.87h0.9M0,19.90h-2.0M162.00,19.90h2.0M0,14.92h-0.9M162.00,14.92h0.9M0,9.95h-0.9M162.00,9.95h0.9M0,4.97h-2.0M162.00,4.97h2.0M0,0.00h-0.9M162.00,0.00h0.9" stroke="#333" stroke-width="0.85" fill="none"/><text x="11.57" y="66.95" font-size="5.6" text-anchor="middle" textLength="8.63" lengthAdjust="spacingAndGlyphs" fill="#111" stroke="#111" stroke-width="0.12">96E</text><text x="34.71" y="66.95" font-size="5.6" text-anchor="middle" textLength="11.33" lengthAdjust="spacingAndGlyphs" fill="#111" stroke="#111" stroke-width="0.12">100E</text><text x="57.86" y="66.95" font-size="5.6" text-anchor="middle" textLength="11.33" lengthAdjust="spacingAndGlyphs" fill="#111" stroke="#111" stroke-width="0.12">104E</text><text x="81.00" y="66.95" font-size="5.6" text-anchor="middle" textLength="11.33" lengthAdjust="spacingAndGlyphs" fill="#111" stroke="#111" stroke-width="0.12">108E</text><text x="104.14" y="66.95" font-size="5.6" text-anchor="middle" textLength="10.97" lengthAdjust="spacingAndGlyphs" fill="#111" stroke="#111" stroke-width="0.12">112E</text><text x="127.29" y="66.95" font-size="5.6" text-anchor="middle" textLength="10.97" lengthAdjust="spacingAndGlyphs" fill="#111" stroke="#111" stroke-width="0.12">116E</text><text x="150.43" y="66.95" font-size="5.6" text-anchor="middle" textLength="11.33" lengthAdjust="spacingAndGlyphs" fill="#111" stroke="#111" stroke-width="0.12">120E</text><rect x="0.8" y="0.6" width="49.7" height="11.4" fill="#fff" stroke="#aaa" stroke-width="0.8"/><text x="3.15" y="9.0" font-size="6.6" fill="#000" stroke="#000" stroke-width="0.06">(r) Lead=6d diff</text></g>
<g transform="translate(381.50,286.02)"><g clip-path="url(#cb)"><g filter="url(#bl)"><rect x="5" y="0" width="150" height="57" fill="#f4a0a0"/><ellipse cx="19" cy="41" rx="14" ry="7" fill="#f08080" fill-opacity="1"/><ellipse cx="44" cy="43" rx="13" ry="10" fill="#f04848" fill-opacity="1"/><ellipse cx="47.5" cy="38" rx="7" ry="4" fill="#e81818" fill-opacity="1"/><ellipse cx="51.5" cy="31" rx="7" ry="2.5" fill="#9090f0" fill-opacity="1"/><ellipse cx="67.5" cy="34" rx="5" ry="3" fill="#6060f0" fill-opacity="1"/><ellipse cx="77.5" cy="39" rx="4" ry="2" fill="#7070f0" fill-opacity="1"/><ellipse cx="81.5" cy="10" rx="6" ry="3" fill="#5050f0" fill-opacity="1"/><ellipse cx="89.5" cy="21" rx="3" ry="4" fill="#8080f0" fill-opacity="1"/><ellipse cx="99.5" cy="21" rx="3" ry="5" fill="#7070f0" fill-opacity="1"/><ellipse cx="83.5" cy="33" rx="4" ry="2" fill="#9090f0" fill-opacity="1"/><ellipse cx="103.5" cy="29" rx="4" ry="4" fill="#f05050" fill-opacity="1"/><ellipse cx="96" cy="39" rx="8" ry="3" fill="#4040f0" fill-opacity="1"/><ellipse cx="109.5" cy="40" rx="3" ry="3" fill="#1818d0" fill-opacity="1"/><ellipse cx="120" cy="38.2" rx="10" ry="2.6" fill="#4040e0" fill-opacity="1" transform="rotate(-17 120 38.2)"/><ellipse cx="135.5" cy="33.8" rx="5" ry="2.8" fill="#1010e0" fill-opacity="1"/></g></g><use href="#bp" fill="none" stroke="#0a0a0a" stroke-width="1.2" stroke-linejoin="round"/><use href="#rv" fill="none" stroke="#0a0a0a" stroke-width="1.4" stroke-linecap="round"/><rect x="0" y="0" width="162.0" height="57.2" fill="none" stroke="#505050" stroke-width="0.85"/><path d="M11.57,57.20v2.0M11.57,0v-2.0M23.14,57.20v0.9M23.14,0v-0.9M34.71,57.20v2.0M34.71,0v-2.0M46.29,57.20v0.9M46.29,0v-0.9M57.86,57.20v2.0M57.86,0v-2.0M69.43,57.20v0.9M69.43,0v-0.9M81.00,57.20v2.0M81.00,0v-2.0M92.57,57.20v0.9M92.57,0v-0.9M104.14,57.20v2.0M104.14,0v-2.0M115.71,57.20v0.9M115.71,0v-0.9M127.29,57.20v2.0M127.29,0v-2.0M138.86,57.20v0.9M138.86,0v-0.9M150.43,57.20v2.0M150.43,0v-2.0M0,54.71h-0.9M162.00,54.71h0.9M0,49.74h-2.0M162.00,49.74h2.0M0,44.77h-0.9M162.00,44.77h0.9M0,39.79h-0.9M162.00,39.79h0.9M0,34.82h-2.0M162.00,34.82h2.0M0,29.84h-0.9M162.00,29.84h0.9M0,24.87h-0.9M162.00,24.87h0.9M0,19.90h-2.0M162.00,19.90h2.0M0,14.92h-0.9M162.00,14.92h0.9M0,9.95h-0.9M162.00,9.95h0.9M0,4.97h-2.0M162.00,4.97h2.0M0,0.00h-0.9M162.00,0.00h0.9" stroke="#333" stroke-width="0.85" fill="none"/><text x="11.57" y="66.95" font-size="5.6" text-anchor="middle" textLength="8.63" lengthAdjust="spacingAndGlyphs" fill="#111" stroke="#111" stroke-width="0.12">96E</text><text x="34.71" y="66.95" font-size="5.6" text-anchor="middle" textLength="11.33" lengthAdjust="spacingAndGlyphs" fill="#111" stroke="#111" stroke-width="0.12">100E</text><text x="57.86" y="66.95" font-size="5.6" text-anchor="middle" textLength="11.33" lengthAdjust="spacingAndGlyphs" fill="#111" stroke="#111" stroke-width="0.12">104E</text><text x="81.00" y="66.95" font-size="5.6" text-anchor="middle" textLength="11.33" lengthAdjust="spacingAndGlyphs" fill="#111" stroke="#111" stroke-width="0.12">108E</text><text x="104.14" y="66.95" font-size="5.6" text-anchor="middle" textLength="10.97" lengthAdjust="spacingAndGlyphs" fill="#111" stroke="#111" stroke-width="0.12">112E</text><text x="127.29" y="66.95" font-size="5.6" text-anchor="middle" textLength="10.97" lengthAdjust="spacingAndGlyphs" fill="#111" stroke="#111" stroke-width="0.12">116E</text><text x="150.43" y="66.95" font-size="5.6" text-anchor="middle" textLength="11.33" lengthAdjust="spacingAndGlyphs" fill="#111" stroke="#111" stroke-width="0.12">120E</text><rect x="0.8" y="0.6" width="50.8" height="11.4" fill="#fff" stroke="#aaa" stroke-width="0.8"/><text x="3.15" y="9.0" font-size="6.6" fill="#000" stroke="#000" stroke-width="0.06">(s) Lead=9d diff</text></g>
<g transform="translate(381.50,356.20)"><g clip-path="url(#cb)"><g filter="url(#bl)"><rect x="5" y="0" width="150" height="57" fill="#6a6af0"/><ellipse cx="19" cy="41" rx="14" ry="7" fill="#f4a0a0" fill-opacity="1"/><ellipse cx="44" cy="43" rx="13" ry="10" fill="#f05050" fill-opacity="1"/><ellipse cx="43.5" cy="44.8" rx="6" ry="4" fill="#e81818" fill-opacity="1"/><ellipse cx="48" cy="30" rx="8" ry="3" fill="#9090f0" fill-opacity="1"/><ellipse cx="65" cy="33" rx="9" ry="5" fill="#8080f0" fill-opacity="1"/><ellipse cx="99.5" cy="20.8" rx="6" ry="8" fill="#1010e0" fill-opacity="1"/><ellipse cx="82" cy="12" rx="8" ry="6" fill="#7070f0" fill-opacity="1"/><ellipse cx="93.5" cy="38.8" rx="6" ry="3" fill="#3030f0" fill-opacity="1"/><ellipse cx="103.5" cy="34.8" rx="5" ry="3" fill="#f08080" fill-opacity="1"/><ellipse cx="85.5" cy="40.8" rx="4" ry="2" fill="#d0d0f4" fill-opacity="1"/><ellipse cx="120" cy="38.2" rx="10" ry="2.6" fill="#5050e0" fill-opacity="1" transform="rotate(-17 120 38.2)"/><ellipse cx="135.5" cy="33.8" rx="5" ry="2.8" fill="#2020e0" fill-opacity="1"/></g></g><use href="#bp" fill="none" stroke="#0a0a0a" stroke-width="1.2" stroke-linejoin="round"/><use href="#rv" fill="none" stroke="#0a0a0a" stroke-width="1.4" stroke-linecap="round"/><rect x="0" y="0" width="162.0" height="57.2" fill="none" stroke="#505050" stroke-width="0.85"/><path d="M11.57,57.20v2.0M11.57,0v-2.0M23.14,57.20v0.9M23.14,0v-0.9M34.71,57.20v2.0M34.71,0v-2.0M46.29,57.20v0.9M46.29,0v-0.9M57.86,57.20v2.0M57.86,0v-2.0M69.43,57.20v0.9M69.43,0v-0.9M81.00,57.20v2.0M81.00,0v-2.0M92.57,57.20v0.9M92.57,0v-0.9M104.14,57.20v2.0M104.14,0v-2.0M115.71,57.20v0.9M115.71,0v-0.9M127.29,57.20v2.0M127.29,0v-2.0M138.86,57.20v0.9M138.86,0v-0.9M150.43,57.20v2.0M150.43,0v-2.0M0,54.71h-0.9M162.00,54.71h0.9M0,49.74h-2.0M162.00,49.74h2.0M0,44.77h-0.9M162.00,44.77h0.9M0,39.79h-0.9M162.00,39.79h0.9M0,34.82h-2.0M162.00,34.82h2.0M0,29.84h-0.9M162.00,29.84h0.9M0,24.87h-0.9M162.00,24.87h0.9M0,19.90h-2.0M162.00,19.90h2.0M0,14.92h-0.9M162.00,14.92h0.9M0,9.95h-0.9M162.00,9.95h0.9M0,4.97h-2.0M162.00,4.97h2.0M0,0.00h-0.9M162.00,0.00h0.9" stroke="#333" stroke-width="0.85" fill="none"/><text x="11.57" y="66.95" font-size="5.6" text-anchor="middle" textLength="8.63" lengthAdjust="spacingAndGlyphs" fill="#111" stroke="#111" stroke-width="0.12">96E</text><text x="34.71" y="66.95" font-size="5.6" text-anchor="middle" textLength="11.33" lengthAdjust="spacingAndGlyphs" fill="#111" stroke="#111" stroke-width="0.12">100E</text><text x="57.86" y="66.95" font-size="5.6" text-anchor="middle" textLength="11.33" lengthAdjust="spacingAndGlyphs" fill="#111" stroke="#111" stroke-width="0.12">104E</text><text x="81.00" y="66.95" font-size="5.6" text-anchor="middle" textLength="11.33" lengthAdjust="spacingAndGlyphs" fill="#111" stroke="#111" stroke-width="0.12">108E</text><text x="104.14" y="66.95" font-size="5.6" text-anchor="middle" textLength="10.97" lengthAdjust="spacingAndGlyphs" fill="#111" stroke="#111" stroke-width="0.12">112E</text><text x="127.29" y="66.95" font-size="5.6" text-anchor="middle" textLength="10.97" lengthAdjust="spacingAndGlyphs" fill="#111" stroke="#111" stroke-width="0.12">116E</text><text x="150.43" y="66.95" font-size="5.6" text-anchor="middle" textLength="11.33" lengthAdjust="spacingAndGlyphs" fill="#111" stroke="#111" stroke-width="0.12">120E</text><rect x="0.8" y="0.6" width="53.0" height="11.4" fill="#fff" stroke="#aaa" stroke-width="0.8"/><text x="3.15" y="9.0" font-size="6.6" fill="#000" stroke="#000" stroke-width="0.06">(t) Lead=12d diff</text></g>
<g transform="translate(381.50,426.38)"><g clip-path="url(#cb)"><g filter="url(#bl)"><rect x="5" y="0" width="150" height="57" fill="#4c4cf0"/><ellipse cx="19" cy="41" rx="14" ry="7" fill="#f4a0a0" fill-opacity="1"/><ellipse cx="44" cy="43" rx="13" ry="10" fill="#f08080" fill-opacity="1"/><ellipse cx="43.5" cy="40.6" rx="6" ry="4" fill="#f07070" fill-opacity="1"/><ellipse cx="49" cy="30" rx="9" ry="3" fill="#6060f0" fill-opacity="1"/><ellipse cx="99.5" cy="18.6" rx="5" ry="6" fill="#1010e0" fill-opacity="1"/><ellipse cx="93.5" cy="28.6" rx="7" ry="4" fill="#2020e0" fill-opacity="1"/><ellipse cx="73.5" cy="32.6" rx="4" ry="2" fill="#a0a0f0" fill-opacity="1"/><ellipse cx="59.5" cy="32.6" rx="4" ry="2" fill="#a0a0f0" fill-opacity="1"/><ellipse cx="99.5" cy="42.6" rx="5" ry="2" fill="#f06060" fill-opacity="1"/><ellipse cx="61.5" cy="40.6" rx="4" ry="1.5" fill="#f0a0a0" fill-opacity="1"/><ellipse cx="78" cy="20" rx="4" ry="3" fill="#a0a0f0" fill-opacity="1"/><ellipse cx="90" cy="15" rx="4" ry="2" fill="#b0b0f0" fill-opacity="1"/><ellipse cx="104" cy="32" rx="4" ry="3" fill="#a0a0f0" fill-opacity="1"/><ellipse cx="70" cy="38" rx="4" ry="2" fill="#b0b0f0" fill-opacity="1"/><ellipse cx="120" cy="38.2" rx="10" ry="2.6" fill="#2020e0" fill-opacity="1" transform="rotate(-17 120 38.2)"/><ellipse cx="135.5" cy="33.8" rx="5" ry="2.8" fill="#1010e0" fill-opacity="1"/></g></g><use href="#bp" fill="none" stroke="#0a0a0a" stroke-width="1.2" stroke-linejoin="round"/><use href="#rv" fill="none" stroke="#0a0a0a" stroke-width="1.4" stroke-linecap="round"/><rect x="0" y="0" width="162.0" height="57.2" fill="none" stroke="#505050" stroke-width="0.85"/><path d="M11.57,57.20v2.0M11.57,0v-2.0M23.14,57.20v0.9M23.14,0v-0.9M34.71,57.20v2.0M34.71,0v-2.0M46.29,57.20v0.9M46.29,0v-0.9M57.86,57.20v2.0M57.86,0v-2.0M69.43,57.20v0.9M69.43,0v-0.9M81.00,57.20v2.0M81.00,0v-2.0M92.57,57.20v0.9M92.57,0v-0.9M104.14,57.20v2.0M104.14,0v-2.0M115.71,57.20v0.9M115.71,0v-0.9M127.29,57.20v2.0M127.29,0v-2.0M138.86,57.20v0.9M138.86,0v-0.9M150.43,57.20v2.0M150.43,0v-2.0M0,54.71h-0.9M162.00,54.71h0.9M0,49.74h-2.0M162.00,49.74h2.0M0,44.77h-0.9M162.00,44.77h0.9M0,39.79h-0.9M162.00,39.79h0.9M0,34.82h-2.0M162.00,34.82h2.0M0,29.84h-0.9M162.00,29.84h0.9M0,24.87h-0.9M162.00,24.87h0.9M0,19.90h-2.0M162.00,19.90h2.0M0,14.92h-0.9M162.00,14.92h0.9M0,9.95h-0.9M162.00,9.95h0.9M0,4.97h-2.0M162.00,4.97h2.0M0,0.00h-0.9M162.00,0.00h0.9" stroke="#333" stroke-width="0.85" fill="none"/><text x="11.57" y="66.95" font-size="5.6" text-anchor="middle" textLength="8.63" lengthAdjust="spacingAndGlyphs" fill="#111" stroke="#111" stroke-width="0.12">96E</text><text x="34.71" y="66.95" font-size="5.6" text-anchor="middle" textLength="11.33" lengthAdjust="spacingAndGlyphs" fill="#111" stroke="#111" stroke-width="0.12">100E</text><text x="57.86" y="66.95" font-size="5.6" text-anchor="middle" textLength="11.33" lengthAdjust="spacingAndGlyphs" fill="#111" stroke="#111" stroke-width="0.12">104E</text><text x="81.00" y="66.95" font-size="5.6" text-anchor="middle" textLength="11.33" lengthAdjust="spacingAndGlyphs" fill="#111" stroke="#111" stroke-width="0.12">108E</text><text x="104.14" y="66.95" font-size="5.6" text-anchor="middle" textLength="10.97" lengthAdjust="spacingAndGlyphs" fill="#111" stroke="#111" stroke-width="0.12">112E</text><text x="127.29" y="66.95" font-size="5.6" text-anchor="middle" textLength="10.97" lengthAdjust="spacingAndGlyphs" fill="#111" stroke="#111" stroke-width="0.12">116E</text><text x="150.43" y="66.95" font-size="5.6" text-anchor="middle" textLength="11.33" lengthAdjust="spacingAndGlyphs" fill="#111" stroke="#111" stroke-width="0.12">120E</text><rect x="0.8" y="0.6" width="54.9" height="11.4" fill="#fff" stroke="#aaa" stroke-width="0.8"/><text x="3.15" y="9.0" font-size="6.6" fill="#000" stroke="#000" stroke-width="0.06">(u) Lead=15d diff</text></g>
<rect x="38.30" y="502.2" width="15.44" height="9.5" fill="#fdf9bf" stroke="#333" stroke-width="0.35"/><rect x="53.74" y="502.2" width="15.44" height="9.5" fill="#d5eca8" stroke="#333" stroke-width="0.35"/><rect x="69.19" y="502.2" width="15.44" height="9.5" fill="#a9dc9f" stroke="#333" stroke-width="0.35"/><rect x="84.63" y="502.2" width="15.44" height="9.5" fill="#80cb9b" stroke="#333" stroke-width="0.35"/><rect x="100.07" y="502.2" width="15.44" height="9.5" fill="#5dbc9d" stroke="#333" stroke-width="0.35"/><rect x="115.51" y="502.2" width="15.44" height="9.5" fill="#4aa89c" stroke="#333" stroke-width="0.35"/><rect x="130.96" y="502.2" width="15.44" height="9.5" fill="#40969a" stroke="#333" stroke-width="0.35"/><rect x="146.40" y="502.2" width="15.44" height="9.5" fill="#3e869a" stroke="#333" stroke-width="0.35"/><rect x="161.84" y="502.2" width="15.44" height="9.5" fill="#3c7398" stroke="#333" stroke-width="0.35"/><rect x="177.29" y="502.2" width="15.44" height="9.5" fill="#3f5f96" stroke="#333" stroke-width="0.35"/><rect x="192.73" y="502.2" width="15.44" height="9.5" fill="#424c8c" stroke="#333" stroke-width="0.35"/><rect x="208.17" y="502.2" width="15.44" height="9.5" fill="#3f3a70" stroke="#333" stroke-width="0.35"/><rect x="223.61" y="502.2" width="15.44" height="9.5" fill="#352a4f" stroke="#333" stroke-width="0.35"/><rect x="239.06" y="502.2" width="15.44" height="9.5" fill="#2a1d33" stroke="#333" stroke-width="0.35"/><text x="53.74" y="519.9" font-size="7.4" text-anchor="middle" fill="#222" stroke="#222" stroke-width="0.15" style="font-family:'Liberation Serif',serif">0</text><text x="69.19" y="519.9" font-size="7.4" text-anchor="middle" fill="#222" stroke="#222" stroke-width="0.15" style="font-family:'Liberation Serif',serif">1</text><text x="84.63" y="519.9" font-size="7.4" text-anchor="middle" fill="#222" stroke="#222" stroke-width="0.15" style="font-family:'Liberation Serif',serif">2</text><text x="100.07" y="519.9" font-size="7.4" text-anchor="middle" fill="#222" stroke="#222" stroke-width="0.15" style="font-family:'Liberation Serif',serif">3</text><text x="115.51" y="519.9" font-size="7.4" text-anchor="middle" fill="#222" stroke="#222" stroke-width="0.15" style="font-family:'Liberation Serif',serif">4</text><text x="130.96" y="519.9" font-size="7.4" text-anchor="middle" fill="#222" stroke="#222" stroke-width="0.15" style="font-family:'Liberation Serif',serif">5</text><text x="146.40" y="519.9" font-size="7.4" text-anchor="middle" fill="#222" stroke="#222" stroke-width="0.15" style="font-family:'Liberation Serif',serif">6</text><text x="161.84" y="519.9" font-size="7.4" text-anchor="middle" fill="#222" stroke="#222" stroke-width="0.15" style="font-family:'Liberation Serif',serif">7</text><text x="177.29" y="519.9" font-size="7.4" text-anchor="middle" fill="#222" stroke="#222" stroke-width="0.15" style="font-family:'Liberation Serif',serif">8</text><text x="192.73" y="519.9" font-size="7.4" text-anchor="middle" fill="#222" stroke="#222" stroke-width="0.15" style="font-family:'Liberation Serif',serif">9</text><text x="208.17" y="519.9" font-size="7.4" text-anchor="middle" fill="#222" stroke="#222" stroke-width="0.15" style="font-family:'Liberation Serif',serif">10</text><text x="223.61" y="519.9" font-size="7.4" text-anchor="middle" fill="#222" stroke="#222" stroke-width="0.15" style="font-family:'Liberation Serif',serif">11</text><text x="239.06" y="519.9" font-size="7.4" text-anchor="middle" fill="#222" stroke="#222" stroke-width="0.15" style="font-family:'Liberation Serif',serif">12</text><rect x="298.10" y="502.0" width="6.35" height="9.6" fill="#00008c" stroke="#222" stroke-width="0.3" stroke-opacity="0.6"/><rect x="304.45" y="502.0" width="6.35" height="9.6" fill="#000098" stroke="#222" stroke-width="0.3" stroke-opacity="0.6"/><rect x="310.79" y="502.0" width="6.35" height="9.6" fill="#0000a4" stroke="#222" stroke-width="0.3" stroke-opacity="0.6"/><rect x="317.14" y="502.0" width="6.35" height="9.6" fill="#0000af" stroke="#222" stroke-width="0.3" stroke-opacity="0.6"/><rect x="323.49" y="502.0" width="6.35" height="9.6" fill="#0000bb" stroke="#222" stroke-width="0.3" stroke-opacity="0.6"/><rect x="329.84" y="502.0" width="6.35" height="9.6" fill="#0000c7" stroke="#222" stroke-width="0.3" stroke-opacity="0.6"/><rect x="336.18" y="502.0" width="6.35" height="9.6" fill="#0000d3" stroke="#222" stroke-width="0.3" stroke-opacity="0.6"/><rect x="342.53" y="502.0" width="6.35" height="9.6" fill="#0000df" stroke="#222" stroke-width="0.3" stroke-opacity="0.6"/><rect x="348.88" y="502.0" width="6.35" height="9.6" fill="#0000eb" stroke="#222" stroke-width="0.3" stroke-opacity="0.6"/><rect x="355.22" y="502.0" width="6.35" height="9.6" fill="#0000f6" stroke="#222" stroke-width="0.3" stroke-opacity="0.6"/><rect x="361.57" y="502.0" width="6.35" height="9.6" fill="#1616f8" stroke="#222" stroke-width="0.3" stroke-opacity="0.6"/><rect x="367.92" y="502.0" width="6.35" height="9.6" fill="#3636fb" stroke="#222" stroke-width="0.3" stroke-opacity="0.6"/><rect x="374.26" y="502.0" width="6.35" height="9.6" fill="#5656fd" stroke="#222" stroke-width="0.3" stroke-opacity="0.6"/><rect x="380.61" y="502.0" width="6.35" height="9.6" fill="#7676ff" stroke="#222" stroke-width="0.3" stroke-opacity="0.6"/><rect x="386.96" y="502.0" width="6.35" height="9.6" fill="#9696ff" stroke="#222" stroke-width="0.3" stroke-opacity="0.6"/><rect x="393.31" y="502.0" width="6.35" height="9.6" fill="#b6b6ff" stroke="#222" stroke-width="0.3" stroke-opacity="0.6"/><rect x="399.65" y="502.0" width="6.35" height="9.6" fill="#d6d6ff" stroke="#222" stroke-width="0.3" stroke-opacity="0.6"/><rect x="406.00" y="502.0" width="6.35" height="9.6" fill="#ffd6d6" stroke="#222" stroke-width="0.3" stroke-opacity="0.6"/><rect x="412.35" y="502.0" width="6.35" height="9.6" fill="#ffb6b6" stroke="#222" stroke-width="0.3" stroke-opacity="0.6"/><rect x="418.69" y="502.0" width="6.35" height="9.6" fill="#ff9696" stroke="#222" stroke-width="0.3" stroke-opacity="0.6"/><rect x="425.04" y="502.0" width="6.35" height="9.6" fill="#ff7676" stroke="#222" stroke-width="0.3" stroke-opacity="0.6"/><rect x="431.39" y="502.0" width="6.35" height="9.6" fill="#fd5656" stroke="#222" stroke-width="0.3" stroke-opacity="0.6"/><rect x="437.74" y="502.0" width="6.35" height="9.6" fill="#fb3636" stroke="#222" stroke-width="0.3" stroke-opacity="0.6"/><rect x="444.08" y="502.0" width="6.35" height="9.6" fill="#f81616" stroke="#222" stroke-width="0.3" stroke-opacity="0.6"/><rect x="450.43" y="502.0" width="6.35" height="9.6" fill="#f60000" stroke="#222" stroke-width="0.3" stroke-opacity="0.6"/><rect x="456.78" y="502.0" width="6.35" height="9.6" fill="#eb0000" stroke="#222" stroke-width="0.3" stroke-opacity="0.6"/><rect x="463.12" y="502.0" width="6.35" height="9.6" fill="#df0000" stroke="#222" stroke-width="0.3" stroke-opacity="0.6"/><rect x="469.47" y="502.0" width="6.35" height="9.6" fill="#d30000" stroke="#222" stroke-width="0.3" stroke-opacity="0.6"/><rect x="475.82" y="502.0" width="6.35" height="9.6" fill="#c70000" stroke="#222" stroke-width="0.3" stroke-opacity="0.6"/><rect x="482.16" y="502.0" width="6.35" height="9.6" fill="#bb0000" stroke="#222" stroke-width="0.3" stroke-opacity="0.6"/><rect x="488.51" y="502.0" width="6.35" height="9.6" fill="#af0000" stroke="#222" stroke-width="0.3" stroke-opacity="0.6"/><rect x="494.86" y="502.0" width="6.35" height="9.6" fill="#a40000" stroke="#222" stroke-width="0.3" stroke-opacity="0.6"/><rect x="501.21" y="502.0" width="6.35" height="9.6" fill="#980000" stroke="#222" stroke-width="0.3" stroke-opacity="0.6"/><rect x="507.55" y="502.0" width="6.35" height="9.6" fill="#8c0000" stroke="#222" stroke-width="0.3" stroke-opacity="0.6"/><text x="305.16" y="519.9" font-size="7.4" text-anchor="middle" fill="#222" stroke="#222" stroke-width="0.15" style="font-family:'Liberation Serif',serif">−8</text><text x="317.79" y="519.9" font-size="7.4" text-anchor="middle" fill="#222" stroke="#222" stroke-width="0.15" style="font-family:'Liberation Serif',serif">−7</text><text x="330.42" y="519.9" font-size="7.4" text-anchor="middle" fill="#222" stroke="#222" stroke-width="0.15" style="font-family:'Liberation Serif',serif">−6</text><text x="343.05" y="519.9" font-size="7.4" text-anchor="middle" fill="#222" stroke="#222" stroke-width="0.15" style="font-family:'Liberation Serif',serif">−5</text><text x="355.68" y="519.9" font-size="7.4" text-anchor="middle" fill="#222" stroke="#222" stroke-width="0.15" style="font-family:'Liberation Serif',serif">−4</text><text x="368.31" y="519.9" font-size="7.4" text-anchor="middle" fill="#222" stroke="#222" stroke-width="0.15" style="font-family:'Liberation Serif',serif">−3</text><text x="380.94" y="519.9" font-size="7.4" text-anchor="middle" fill="#222" stroke="#222" stroke-width="0.15" style="font-family:'Liberation Serif',serif">−2</text><text x="393.57" y="519.9" font-size="7.4" text-anchor="middle" fill="#222" stroke="#222" stroke-width="0.15" style="font-family:'Liberation Serif',serif">−1</text><text x="406.20" y="519.9" font-size="7.4" text-anchor="middle" fill="#222" stroke="#222" stroke-width="0.15" style="font-family:'Liberation Serif',serif">0</text><text x="418.83" y="519.9" font-size="7.4" text-anchor="middle" fill="#222" stroke="#222" stroke-width="0.15" style="font-family:'Liberation Serif',serif">1</text><text x="431.46" y="519.9" font-size="7.4" text-anchor="middle" fill="#222" stroke="#222" stroke-width="0.15" style="font-family:'Liberation Serif',serif">2</text><text x="444.09" y="519.9" font-size="7.4" text-anchor="middle" fill="#222" stroke="#222" stroke-width="0.15" style="font-family:'Liberation Serif',serif">3</text><text x="456.72" y="519.9" font-size="7.4" text-anchor="middle" fill="#222" stroke="#222" stroke-width="0.15" style="font-family:'Liberation Serif',serif">4</text><text x="469.35" y="519.9" font-size="7.4" text-anchor="middle" fill="#222" stroke="#222" stroke-width="0.15" style="font-family:'Liberation Serif',serif">5</text><text x="481.98" y="519.9" font-size="7.4" text-anchor="middle" fill="#222" stroke="#222" stroke-width="0.15" style="font-family:'Liberation Serif',serif">6</text><text x="494.61" y="519.9" font-size="7.4" text-anchor="middle" fill="#222" stroke="#222" stroke-width="0.15" style="font-family:'Liberation Serif',serif">7</text><text x="507.24" y="519.9" font-size="7.4" text-anchor="middle" fill="#222" stroke="#222" stroke-width="0.15" style="font-family:'Liberation Serif',serif">8</text>
</svg></body></html>
